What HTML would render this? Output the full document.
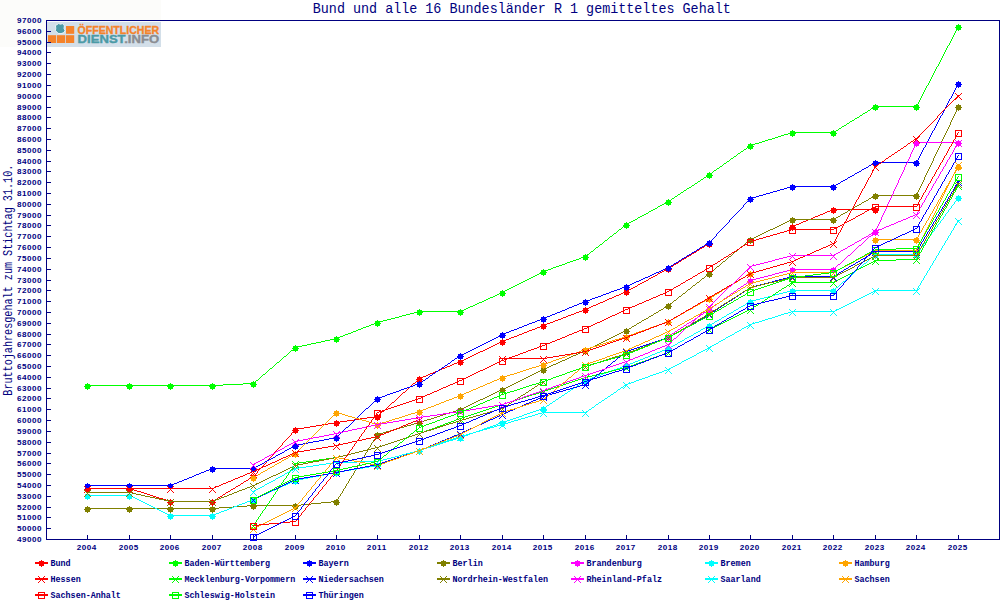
<!DOCTYPE html>
<html lang="de"><head><meta charset="utf-8"><title>Bund und alle 16 Bundesländer R 1 gemitteltes Gehalt</title>
<style>
html,body{margin:0;padding:0;background:#fff;}
body{width:1000px;height:600px;overflow:hidden;position:relative;font-family:"Liberation Mono",monospace;}
svg{position:absolute;left:0;top:0;display:block;}
.t{font-family:"Liberation Mono",monospace;fill:#000080;}
.s{font-family:"Liberation Mono",monospace;fill:#000080;font-weight:bold;font-size:9px;}
.d{font-family:"Liberation Sans",sans-serif;fill:#000080;font-weight:bold;font-size:8.1px;}
.logo{font-family:"Liberation Sans",sans-serif;font-weight:bold;}
</style></head><body>
<svg width="1000" height="600" viewBox="0 0 1000 600">
<rect x="0" y="0" width="1000" height="600" fill="#ffffff"/>
<text class="t" x="521.8" y="12.8" font-size="14.4" text-anchor="middle" textLength="418" lengthAdjust="spacingAndGlyphs">Bund und alle 16 Bundesländer R 1 gemitteltes Gehalt</text>
<text class="t" transform="translate(12,280.2) rotate(-90)" font-size="13" text-anchor="middle" textLength="231" lengthAdjust="spacingAndGlyphs">Bruttojahresgehalt zum Stichtag 31.10.</text>
<rect x="0" y="0" width="161" height="47" fill="#fcfcfa"/>
<g id="logo">
<rect x="47" y="22" width="114" height="25" fill="#d3dfe9"/>
<rect x="66" y="26" width="8.2" height="7.8" fill="#f5832a"/>
<rect x="48" y="35.2" width="8.2" height="7.8" fill="#f5832a"/>
<rect x="57" y="35.2" width="8.2" height="7.8" fill="#f5832a"/>
<rect x="66" y="35.2" width="8.2" height="7.8" fill="#f5832a"/>
<path d="M55.4 25.4 L57.4 24.6 L58.4 23.6 L60.6 24.2 L62.6 23.6 L64.4 25.8 L64 28.4 L65 30.4 L64 32.6 L61 33.6 L58 33.4 L56.6 31.6 L55.4 30.6 L55.8 28.2 Z" fill="#4b9aa6" stroke="#f4f8fa" stroke-width="0.9" stroke-linejoin="round"/>
<text class="logo" x="77.6" y="34" font-size="10.6" fill="#f5832a" stroke="#f5832a" stroke-width="0.35" textLength="81.5" lengthAdjust="spacingAndGlyphs">ÖFFENTLICHER</text>
<text class="logo" x="77.6" y="43.2" font-size="10.4" stroke-width="0.35" textLength="81.5" lengthAdjust="spacingAndGlyphs"><tspan fill="#4b9aa6" stroke="#4b9aa6">DIENST</tspan><tspan fill="#8b8d92" stroke="#8b8d92">.INFO</tspan></text>
</g>
<g stroke="#000080" stroke-width="1" fill="none" shape-rendering="crispEdges">
<rect x="46.5" y="20.5" width="953.0" height="519.0"/>
<path d="M47.0 539.5h4M47.0 528.5h4M47.0 517.5h4M47.0 507.5h4M47.0 496.5h4M47.0 485.5h4M47.0 474.5h4M47.0 463.5h4M47.0 453.5h4M47.0 442.5h4M47.0 431.5h4M47.0 420.5h4M47.0 409.5h4M47.0 398.5h4M47.0 388.5h4M47.0 377.5h4M47.0 366.5h4M47.0 355.5h4M47.0 344.5h4M47.0 334.5h4M47.0 323.5h4M47.0 312.5h4M47.0 301.5h4M47.0 290.5h4M47.0 280.5h4M47.0 269.5h4M47.0 258.5h4M47.0 247.5h4M47.0 236.5h4M47.0 225.5h4M47.0 215.5h4M47.0 204.5h4M47.0 193.5h4M47.0 182.5h4M47.0 171.5h4M47.0 161.5h4M47.0 150.5h4M47.0 139.5h4M47.0 128.5h4M47.0 117.5h4M47.0 107.5h4M47.0 96.5h4M47.0 85.5h4M47.0 74.5h4M47.0 63.5h4M47.0 52.5h4M47.0 42.5h4M47.0 31.5h4M47.0 20.5h4"/>
<path d="M87.5 539.0v-4M129.5 539.0v-4M170.5 539.0v-4M212.5 539.0v-4M253.5 539.0v-4M295.5 539.0v-4M336.5 539.0v-4M377.5 539.0v-4M419.5 539.0v-4M460.5 539.0v-4M502.5 539.0v-4M543.5 539.0v-4M585.5 539.0v-4M626.5 539.0v-4M668.5 539.0v-4M709.5 539.0v-4M750.5 539.0v-4M792.5 539.0v-4M833.5 539.0v-4M875.5 539.0v-4M916.5 539.0v-4M958.5 539.0v-4"/>
</g>
<g class="d" text-anchor="end">
<text x="41.6" y="542.1" textLength="24.6" lengthAdjust="spacing">49000</text>
<text x="41.6" y="531.1" textLength="24.6" lengthAdjust="spacing">50000</text>
<text x="41.6" y="520.1" textLength="24.6" lengthAdjust="spacing">51000</text>
<text x="41.6" y="510.1" textLength="24.6" lengthAdjust="spacing">52000</text>
<text x="41.6" y="499.1" textLength="24.6" lengthAdjust="spacing">53000</text>
<text x="41.6" y="488.1" textLength="24.6" lengthAdjust="spacing">54000</text>
<text x="41.6" y="477.1" textLength="24.6" lengthAdjust="spacing">55000</text>
<text x="41.6" y="466.1" textLength="24.6" lengthAdjust="spacing">56000</text>
<text x="41.6" y="456.1" textLength="24.6" lengthAdjust="spacing">57000</text>
<text x="41.6" y="445.1" textLength="24.6" lengthAdjust="spacing">58000</text>
<text x="41.6" y="434.1" textLength="24.6" lengthAdjust="spacing">59000</text>
<text x="41.6" y="423.1" textLength="24.6" lengthAdjust="spacing">60000</text>
<text x="41.6" y="412.1" textLength="24.6" lengthAdjust="spacing">61000</text>
<text x="41.6" y="401.1" textLength="24.6" lengthAdjust="spacing">62000</text>
<text x="41.6" y="391.1" textLength="24.6" lengthAdjust="spacing">63000</text>
<text x="41.6" y="380.1" textLength="24.6" lengthAdjust="spacing">64000</text>
<text x="41.6" y="369.1" textLength="24.6" lengthAdjust="spacing">65000</text>
<text x="41.6" y="358.1" textLength="24.6" lengthAdjust="spacing">66000</text>
<text x="41.6" y="347.1" textLength="24.6" lengthAdjust="spacing">67000</text>
<text x="41.6" y="337.1" textLength="24.6" lengthAdjust="spacing">68000</text>
<text x="41.6" y="326.1" textLength="24.6" lengthAdjust="spacing">69000</text>
<text x="41.6" y="315.1" textLength="24.6" lengthAdjust="spacing">70000</text>
<text x="41.6" y="304.1" textLength="24.6" lengthAdjust="spacing">71000</text>
<text x="41.6" y="293.1" textLength="24.6" lengthAdjust="spacing">72000</text>
<text x="41.6" y="283.1" textLength="24.6" lengthAdjust="spacing">73000</text>
<text x="41.6" y="272.1" textLength="24.6" lengthAdjust="spacing">74000</text>
<text x="41.6" y="261.1" textLength="24.6" lengthAdjust="spacing">75000</text>
<text x="41.6" y="250.1" textLength="24.6" lengthAdjust="spacing">76000</text>
<text x="41.6" y="239.1" textLength="24.6" lengthAdjust="spacing">77000</text>
<text x="41.6" y="228.1" textLength="24.6" lengthAdjust="spacing">78000</text>
<text x="41.6" y="218.1" textLength="24.6" lengthAdjust="spacing">79000</text>
<text x="41.6" y="207.1" textLength="24.6" lengthAdjust="spacing">80000</text>
<text x="41.6" y="196.1" textLength="24.6" lengthAdjust="spacing">81000</text>
<text x="41.6" y="185.1" textLength="24.6" lengthAdjust="spacing">82000</text>
<text x="41.6" y="174.1" textLength="24.6" lengthAdjust="spacing">83000</text>
<text x="41.6" y="164.1" textLength="24.6" lengthAdjust="spacing">84000</text>
<text x="41.6" y="153.1" textLength="24.6" lengthAdjust="spacing">85000</text>
<text x="41.6" y="142.1" textLength="24.6" lengthAdjust="spacing">86000</text>
<text x="41.6" y="131.1" textLength="24.6" lengthAdjust="spacing">87000</text>
<text x="41.6" y="120.1" textLength="24.6" lengthAdjust="spacing">88000</text>
<text x="41.6" y="110.1" textLength="24.6" lengthAdjust="spacing">89000</text>
<text x="41.6" y="99.1" textLength="24.6" lengthAdjust="spacing">90000</text>
<text x="41.6" y="88.1" textLength="24.6" lengthAdjust="spacing">91000</text>
<text x="41.6" y="77.1" textLength="24.6" lengthAdjust="spacing">92000</text>
<text x="41.6" y="66.1" textLength="24.6" lengthAdjust="spacing">93000</text>
<text x="41.6" y="55.1" textLength="24.6" lengthAdjust="spacing">94000</text>
<text x="41.6" y="45.1" textLength="24.6" lengthAdjust="spacing">95000</text>
<text x="41.6" y="34.1" textLength="24.6" lengthAdjust="spacing">96000</text>
<text x="41.6" y="23.1" textLength="24.6" lengthAdjust="spacing">97000</text>
</g>
<g class="d" text-anchor="middle">
<text x="86.5" y="550.1" textLength="19.6" lengthAdjust="spacing">2004</text>
<text x="128.5" y="550.1" textLength="19.6" lengthAdjust="spacing">2005</text>
<text x="169.5" y="550.1" textLength="19.6" lengthAdjust="spacing">2006</text>
<text x="211.5" y="550.1" textLength="19.6" lengthAdjust="spacing">2007</text>
<text x="252.5" y="550.1" textLength="19.6" lengthAdjust="spacing">2008</text>
<text x="294.5" y="550.1" textLength="19.6" lengthAdjust="spacing">2009</text>
<text x="335.5" y="550.1" textLength="19.6" lengthAdjust="spacing">2010</text>
<text x="376.5" y="550.1" textLength="19.6" lengthAdjust="spacing">2011</text>
<text x="418.5" y="550.1" textLength="19.6" lengthAdjust="spacing">2012</text>
<text x="459.5" y="550.1" textLength="19.6" lengthAdjust="spacing">2013</text>
<text x="501.5" y="550.1" textLength="19.6" lengthAdjust="spacing">2014</text>
<text x="542.5" y="550.1" textLength="19.6" lengthAdjust="spacing">2015</text>
<text x="584.5" y="550.1" textLength="19.6" lengthAdjust="spacing">2016</text>
<text x="625.5" y="550.1" textLength="19.6" lengthAdjust="spacing">2017</text>
<text x="667.5" y="550.1" textLength="19.6" lengthAdjust="spacing">2018</text>
<text x="708.5" y="550.1" textLength="19.6" lengthAdjust="spacing">2019</text>
<text x="749.5" y="550.1" textLength="19.6" lengthAdjust="spacing">2020</text>
<text x="791.5" y="550.1" textLength="19.6" lengthAdjust="spacing">2021</text>
<text x="832.5" y="550.1" textLength="19.6" lengthAdjust="spacing">2022</text>
<text x="874.5" y="550.1" textLength="19.6" lengthAdjust="spacing">2023</text>
<text x="915.5" y="550.1" textLength="19.6" lengthAdjust="spacing">2024</text>
<text x="957.5" y="550.1" textLength="19.6" lengthAdjust="spacing">2025</text>
</g>
<g id="series" fill="none" stroke-width="1" stroke-linejoin="round" shape-rendering="crispEdges">
<path d="M87 488.5h43M129 488.5h2M131 489.5h3M134 490.5h3M137 491.5h4M141 492.5h3M144 493.5h3M147 494.5h3M150 495.5h3M153 496.5h3M156 497.5h3M159 498.5h4M163 499.5h3M166 500.5h3M169 501.5h2M170 501.5h43M212 501.5h1M213 500.5h2M215 499.5h2M217 498.5h1M218 497.5h2M220 496.5h2M222 495.5h1M223 494.5h2M225 493.5h1M226 492.5h2M228 491.5h2M230 490.5h1M231 489.5h2M233 488.5h2M235 487.5h1M236 486.5h2M238 485.5h2M240 484.5h1M241 483.5h2M243 482.5h1M244 481.5h2M246 480.5h2M248 479.5h1M249 478.5h2M251 477.5h2M253 476.5h1M253.5 476v1M254.5 475v1M255.5 474v1M256.5 473v1M257.5 471v2M258.5 470v1M259.5 469v1M260.5 468v1M261.5 467v1M262.5 466v1M263.5 465v1M264.5 464v1M265.5 463v1M266.5 461v2M267.5 460v1M268.5 459v1M269.5 458v1M270.5 457v1M271.5 456v1M272.5 455v1M273.5 454v1M274.5 452v2M275.5 451v1M276.5 450v1M277.5 449v1M278.5 448v1M279.5 447v1M280.5 446v1M281.5 445v1M282.5 443v2M283.5 442v1M284.5 441v1M285.5 440v1M286.5 439v1M287.5 438v1M288.5 437v1M289.5 436v1M290.5 435v1M291.5 433v2M292.5 432v1M293.5 431v1M294.5 430v1M295.5 429v1M295 429.5h3M298 428.5h6M304 427.5h6M310 426.5h6M316 425.5h6M322 424.5h6M328 423.5h6M334 422.5h3M336 422.5h4M340 421.5h7M347 420.5h7M354 419.5h6M360 418.5h7M367 417.5h7M374 416.5h4M377 416.5h1M378 415.5h1M379 414.5h1M380 413.5h1M381 412.5h1M382 411.5h2M384 410.5h1M385 409.5h1M386 408.5h1M387 407.5h1M388 406.5h1M389 405.5h1M390 404.5h1M391 403.5h1M392 402.5h2M394 401.5h1M395 400.5h1M396 399.5h1M397 398.5h1M398 397.5h1M399 396.5h1M400 395.5h1M401 394.5h1M402 393.5h1M403 392.5h2M405 391.5h1M406 390.5h1M407 389.5h1M408 388.5h1M409 387.5h1M410 386.5h1M411 385.5h1M412 384.5h1M413 383.5h2M415 382.5h1M416 381.5h1M417 380.5h1M418 379.5h1M419 378.5h1M419 378.5h2M421 377.5h2M423 376.5h3M426 375.5h2M428 374.5h2M430 373.5h3M433 372.5h2M435 371.5h3M438 370.5h2M440 369.5h2M442 368.5h3M445 367.5h2M447 366.5h3M450 365.5h2M452 364.5h2M454 363.5h3M457 362.5h2M459 361.5h2M460 361.5h2M462 360.5h2M464 359.5h2M466 358.5h2M468 357.5h2M470 356.5h2M472 355.5h2M474 354.5h2M476 353.5h2M478 352.5h2M480 351.5h3M483 350.5h2M485 349.5h2M487 348.5h2M489 347.5h2M491 346.5h2M493 345.5h2M495 344.5h2M497 343.5h2M499 342.5h2M501 341.5h2M502 341.5h2M504 340.5h2M506 339.5h3M509 338.5h2M511 337.5h3M514 336.5h3M517 335.5h2M519 334.5h3M522 333.5h2M524 332.5h3M527 331.5h2M529 330.5h3M532 329.5h3M535 328.5h2M537 327.5h3M540 326.5h2M542 325.5h2M543 325.5h2M545 324.5h2M547 323.5h3M550 322.5h3M553 321.5h2M555 320.5h3M558 319.5h3M561 318.5h2M563 317.5h3M566 316.5h2M568 315.5h3M571 314.5h3M574 313.5h2M576 312.5h3M579 311.5h3M582 310.5h2M584 309.5h2M585 309.5h2M587 308.5h2M589 307.5h2M591 306.5h2M593 305.5h3M596 304.5h2M598 303.5h2M600 302.5h3M603 301.5h2M605 300.5h2M607 299.5h2M609 298.5h3M612 297.5h2M614 296.5h2M616 295.5h3M619 294.5h2M621 293.5h2M623 292.5h2M625 291.5h2M626 291.5h1M627 290.5h2M629 289.5h2M631 288.5h2M633 287.5h2M635 286.5h2M637 285.5h1M638 284.5h2M640 283.5h2M642 282.5h2M644 281.5h2M646 280.5h2M648 279.5h1M649 278.5h2M651 277.5h2M653 276.5h2M655 275.5h2M657 274.5h1M658 273.5h2M660 272.5h2M662 271.5h2M664 270.5h2M666 269.5h2M668 268.5h1M668 268.5h1M669 267.5h2M671 266.5h2M673 265.5h1M674 264.5h2M676 263.5h2M678 262.5h1M679 261.5h2M681 260.5h1M682 259.5h2M684 258.5h2M686 257.5h1M687 256.5h2M689 255.5h2M691 254.5h1M692 253.5h2M694 252.5h2M696 251.5h1M697 250.5h2M699 249.5h1M700 248.5h2M702 247.5h2M704 246.5h1M705 245.5h2M707 244.5h2M709 243.5h1" stroke="#ff0000"/>
<path d="M792 226.5h2M794 225.5h2M796 224.5h3M799 223.5h2M801 222.5h2M803 221.5h3M806 220.5h2M808 219.5h3M811 218.5h2M813 217.5h2M815 216.5h3M818 215.5h2M820 214.5h3M823 213.5h2M825 212.5h2M827 211.5h3M830 210.5h2M832 209.5h2M833 209.5h43" stroke="#ff0000"/>
<path d="M87.0 486.0h1v1h2v2h1v1h-1v2h-2v1h-1v-1h-2v-2h-1v-1h1v-2h2z" fill="#ff0000" shape-rendering="crispEdges"/>
<path d="M129.0 486.0h1v1h2v2h1v1h-1v2h-2v1h-1v-1h-2v-2h-1v-1h1v-2h2z" fill="#ff0000" shape-rendering="crispEdges"/>
<path d="M170.0 499.0h1v1h2v2h1v1h-1v2h-2v1h-1v-1h-2v-2h-1v-1h1v-2h2z" fill="#ff0000" shape-rendering="crispEdges"/>
<path d="M212.0 499.0h1v1h2v2h1v1h-1v2h-2v1h-1v-1h-2v-2h-1v-1h1v-2h2z" fill="#ff0000" shape-rendering="crispEdges"/>
<path d="M253.0 474.0h1v1h2v2h1v1h-1v2h-2v1h-1v-1h-2v-2h-1v-1h1v-2h2z" fill="#ff0000" shape-rendering="crispEdges"/>
<path d="M295.0 427.0h1v1h2v2h1v1h-1v2h-2v1h-1v-1h-2v-2h-1v-1h1v-2h2z" fill="#ff0000" shape-rendering="crispEdges"/>
<path d="M336.0 420.0h1v1h2v2h1v1h-1v2h-2v1h-1v-1h-2v-2h-1v-1h1v-2h2z" fill="#ff0000" shape-rendering="crispEdges"/>
<path d="M377.0 414.0h1v1h2v2h1v1h-1v2h-2v1h-1v-1h-2v-2h-1v-1h1v-2h2z" fill="#ff0000" shape-rendering="crispEdges"/>
<path d="M419.0 376.0h1v1h2v2h1v1h-1v2h-2v1h-1v-1h-2v-2h-1v-1h1v-2h2z" fill="#ff0000" shape-rendering="crispEdges"/>
<path d="M460.0 359.0h1v1h2v2h1v1h-1v2h-2v1h-1v-1h-2v-2h-1v-1h1v-2h2z" fill="#ff0000" shape-rendering="crispEdges"/>
<path d="M502.0 339.0h1v1h2v2h1v1h-1v2h-2v1h-1v-1h-2v-2h-1v-1h1v-2h2z" fill="#ff0000" shape-rendering="crispEdges"/>
<path d="M543.0 323.0h1v1h2v2h1v1h-1v2h-2v1h-1v-1h-2v-2h-1v-1h1v-2h2z" fill="#ff0000" shape-rendering="crispEdges"/>
<path d="M585.0 307.0h1v1h2v2h1v1h-1v2h-2v1h-1v-1h-2v-2h-1v-1h1v-2h2z" fill="#ff0000" shape-rendering="crispEdges"/>
<path d="M626.0 289.0h1v1h2v2h1v1h-1v2h-2v1h-1v-1h-2v-2h-1v-1h1v-2h2z" fill="#ff0000" shape-rendering="crispEdges"/>
<path d="M668.0 266.0h1v1h2v2h1v1h-1v2h-2v1h-1v-1h-2v-2h-1v-1h1v-2h2z" fill="#ff0000" shape-rendering="crispEdges"/>
<path d="M709.0 241.0h1v1h2v2h1v1h-1v2h-2v1h-1v-1h-2v-2h-1v-1h1v-2h2z" fill="#ff0000" shape-rendering="crispEdges"/>
<path d="M792.0 224.0h1v1h2v2h1v1h-1v2h-2v1h-1v-1h-2v-2h-1v-1h1v-2h2z" fill="#ff0000" shape-rendering="crispEdges"/>
<path d="M833.0 207.0h1v1h2v2h1v1h-1v2h-2v1h-1v-1h-2v-2h-1v-1h1v-2h2z" fill="#ff0000" shape-rendering="crispEdges"/>
<path d="M875.0 207.0h1v1h2v2h1v1h-1v2h-2v1h-1v-1h-2v-2h-1v-1h1v-2h2z" fill="#ff0000" shape-rendering="crispEdges"/>
<path d="M87 385.5h43M129 385.5h42M170 385.5h43M212 385.5h11M223 384.5h20M243 383.5h11M253 383.5h1M254 382.5h1M255 381.5h1M256 380.5h2M258 379.5h1M259 378.5h1M260 377.5h1M261 376.5h1M262 375.5h1M263 374.5h2M265 373.5h1M266 372.5h1M267 371.5h1M268 370.5h1M269 369.5h1M270 368.5h2M272 367.5h1M273 366.5h1M274 365.5h1M275 364.5h1M276 363.5h1M277 362.5h2M279 361.5h1M280 360.5h1M281 359.5h1M282 358.5h1M283 357.5h1M284 356.5h2M286 355.5h1M287 354.5h1M288 353.5h1M289 352.5h1M290 351.5h1M291 350.5h2M293 349.5h1M294 348.5h1M295 347.5h1M295 347.5h3M298 346.5h4M302 345.5h5M307 344.5h4M311 343.5h5M316 342.5h5M321 341.5h4M325 340.5h5M330 339.5h4M334 338.5h3M336 338.5h2M338 337.5h2M340 336.5h3M343 335.5h2M345 334.5h3M348 333.5h3M351 332.5h2M353 331.5h3M356 330.5h2M358 329.5h3M361 328.5h2M363 327.5h3M366 326.5h3M369 325.5h2M371 324.5h3M374 323.5h2M376 322.5h2M377 322.5h2M379 321.5h4M383 320.5h4M387 319.5h4M391 318.5h4M395 317.5h4M399 316.5h3M402 315.5h4M406 314.5h4M410 313.5h4M414 312.5h4M418 311.5h2M419 311.5h42M460 311.5h2M462 310.5h2M464 309.5h2M466 308.5h2M468 307.5h2M470 306.5h3M473 305.5h2M475 304.5h2M477 303.5h2M479 302.5h3M482 301.5h2M484 300.5h2M486 299.5h2M488 298.5h2M490 297.5h3M493 296.5h2M495 295.5h2M497 294.5h2M499 293.5h2M501 292.5h2M502 292.5h1M503 291.5h2M505 290.5h2M507 289.5h2M509 288.5h2M511 287.5h2M513 286.5h2M515 285.5h2M517 284.5h2M519 283.5h2M521 282.5h2M523 281.5h2M525 280.5h2M527 279.5h2M529 278.5h2M531 277.5h2M533 276.5h2M535 275.5h2M537 274.5h2M539 273.5h2M541 272.5h2M543 271.5h1M543 271.5h2M545 270.5h3M548 269.5h3M551 268.5h2M553 267.5h3M556 266.5h3M559 265.5h3M562 264.5h3M565 263.5h2M567 262.5h3M570 261.5h3M573 260.5h3M576 259.5h3M579 258.5h2M581 257.5h3M584 256.5h2M585 256.5h1M586 255.5h1M587 254.5h2M589 253.5h1M590 252.5h1M591 251.5h2M593 250.5h1M594 249.5h1M595 248.5h1M596 247.5h2M598 246.5h1M599 245.5h1M600 244.5h2M602 243.5h1M603 242.5h1M604 241.5h1M605 240.5h2M607 239.5h1M608 238.5h1M609 237.5h1M610 236.5h2M612 235.5h1M613 234.5h1M614 233.5h2M616 232.5h1M617 231.5h1M618 230.5h1M619 229.5h2M621 228.5h1M622 227.5h1M623 226.5h2M625 225.5h1M626 224.5h1M626 224.5h1M627 223.5h2M629 222.5h2M631 221.5h2M633 220.5h2M635 219.5h2M637 218.5h1M638 217.5h2M640 216.5h2M642 215.5h2M644 214.5h2M646 213.5h2M648 212.5h1M649 211.5h2M651 210.5h2M653 209.5h2M655 208.5h2M657 207.5h1M658 206.5h2M660 205.5h2M662 204.5h2M664 203.5h2M666 202.5h2M668 201.5h1M668 201.5h1M669 200.5h2M671 199.5h1M672 198.5h2M674 197.5h1M675 196.5h2M677 195.5h1M678 194.5h2M680 193.5h1M681 192.5h2M683 191.5h1M684 190.5h2M686 189.5h1M687 188.5h2M689 187.5h2M691 186.5h1M692 185.5h2M694 184.5h1M695 183.5h2M697 182.5h1M698 181.5h2M700 180.5h1M701 179.5h2M703 178.5h1M704 177.5h2M706 176.5h1M707 175.5h2M709 174.5h1M709 174.5h1M710 173.5h2M712 172.5h1M713 171.5h1M714 170.5h2M716 169.5h1M717 168.5h2M719 167.5h1M720 166.5h2M722 165.5h1M723 164.5h1M724 163.5h2M726 162.5h1M727 161.5h2M729 160.5h1M730 159.5h1M731 158.5h2M733 157.5h1M734 156.5h2M736 155.5h1M737 154.5h1M738 153.5h2M740 152.5h1M741 151.5h2M743 150.5h1M744 149.5h2M746 148.5h1M747 147.5h1M748 146.5h2M750 145.5h1M750 145.5h2M752 144.5h3M755 143.5h4M759 142.5h3M762 141.5h3M765 140.5h3M768 139.5h4M772 138.5h3M775 137.5h3M778 136.5h3M781 135.5h3M784 134.5h4M788 133.5h3M791 132.5h2M792 132.5h42M833 132.5h1M834 131.5h2M836 130.5h2M838 129.5h1M839 128.5h2M841 127.5h1M842 126.5h2M844 125.5h2M846 124.5h1M847 123.5h2M849 122.5h1M850 121.5h2M852 120.5h2M854 119.5h1M855 118.5h2M857 117.5h2M859 116.5h1M860 115.5h2M862 114.5h1M863 113.5h2M865 112.5h2M867 111.5h1M868 110.5h2M870 109.5h1M871 108.5h2M873 107.5h2M875 106.5h1M875 106.5h42M916.5 106v1M917.5 104v2M918.5 102v2M919.5 100v2M920.5 98v2M921.5 96v2M922.5 94v2M923.5 92v2M924.5 90v2M925.5 88v2M926.5 86v2M927.5 85v1M928.5 83v2M929.5 81v2M930.5 79v2M931.5 77v2M932.5 75v2M933.5 73v2M934.5 71v2M935.5 69v2M936.5 67v2M937.5 66v1M938.5 64v2M939.5 62v2M940.5 60v2M941.5 58v2M942.5 56v2M943.5 54v2M944.5 52v2M945.5 50v2M946.5 48v2M947.5 46v2M948.5 45v1M949.5 43v2M950.5 41v2M951.5 39v2M952.5 37v2M953.5 35v2M954.5 33v2M955.5 31v2M956.5 29v2M957.5 27v2M958.5 26v1" stroke="#00ff00"/>
<path d="M87.0 383.0h1v1h2v2h1v1h-1v2h-2v1h-1v-1h-2v-2h-1v-1h1v-2h2z" fill="#00ff00" shape-rendering="crispEdges"/>
<path d="M129.0 383.0h1v1h2v2h1v1h-1v2h-2v1h-1v-1h-2v-2h-1v-1h1v-2h2z" fill="#00ff00" shape-rendering="crispEdges"/>
<path d="M170.0 383.0h1v1h2v2h1v1h-1v2h-2v1h-1v-1h-2v-2h-1v-1h1v-2h2z" fill="#00ff00" shape-rendering="crispEdges"/>
<path d="M212.0 383.0h1v1h2v2h1v1h-1v2h-2v1h-1v-1h-2v-2h-1v-1h1v-2h2z" fill="#00ff00" shape-rendering="crispEdges"/>
<path d="M253.0 381.0h1v1h2v2h1v1h-1v2h-2v1h-1v-1h-2v-2h-1v-1h1v-2h2z" fill="#00ff00" shape-rendering="crispEdges"/>
<path d="M295.0 345.0h1v1h2v2h1v1h-1v2h-2v1h-1v-1h-2v-2h-1v-1h1v-2h2z" fill="#00ff00" shape-rendering="crispEdges"/>
<path d="M336.0 336.0h1v1h2v2h1v1h-1v2h-2v1h-1v-1h-2v-2h-1v-1h1v-2h2z" fill="#00ff00" shape-rendering="crispEdges"/>
<path d="M377.0 320.0h1v1h2v2h1v1h-1v2h-2v1h-1v-1h-2v-2h-1v-1h1v-2h2z" fill="#00ff00" shape-rendering="crispEdges"/>
<path d="M419.0 309.0h1v1h2v2h1v1h-1v2h-2v1h-1v-1h-2v-2h-1v-1h1v-2h2z" fill="#00ff00" shape-rendering="crispEdges"/>
<path d="M460.0 309.0h1v1h2v2h1v1h-1v2h-2v1h-1v-1h-2v-2h-1v-1h1v-2h2z" fill="#00ff00" shape-rendering="crispEdges"/>
<path d="M502.0 290.0h1v1h2v2h1v1h-1v2h-2v1h-1v-1h-2v-2h-1v-1h1v-2h2z" fill="#00ff00" shape-rendering="crispEdges"/>
<path d="M543.0 269.0h1v1h2v2h1v1h-1v2h-2v1h-1v-1h-2v-2h-1v-1h1v-2h2z" fill="#00ff00" shape-rendering="crispEdges"/>
<path d="M585.0 254.0h1v1h2v2h1v1h-1v2h-2v1h-1v-1h-2v-2h-1v-1h1v-2h2z" fill="#00ff00" shape-rendering="crispEdges"/>
<path d="M626.0 222.0h1v1h2v2h1v1h-1v2h-2v1h-1v-1h-2v-2h-1v-1h1v-2h2z" fill="#00ff00" shape-rendering="crispEdges"/>
<path d="M668.0 199.0h1v1h2v2h1v1h-1v2h-2v1h-1v-1h-2v-2h-1v-1h1v-2h2z" fill="#00ff00" shape-rendering="crispEdges"/>
<path d="M709.0 172.0h1v1h2v2h1v1h-1v2h-2v1h-1v-1h-2v-2h-1v-1h1v-2h2z" fill="#00ff00" shape-rendering="crispEdges"/>
<path d="M750.0 143.0h1v1h2v2h1v1h-1v2h-2v1h-1v-1h-2v-2h-1v-1h1v-2h2z" fill="#00ff00" shape-rendering="crispEdges"/>
<path d="M792.0 130.0h1v1h2v2h1v1h-1v2h-2v1h-1v-1h-2v-2h-1v-1h1v-2h2z" fill="#00ff00" shape-rendering="crispEdges"/>
<path d="M833.0 130.0h1v1h2v2h1v1h-1v2h-2v1h-1v-1h-2v-2h-1v-1h1v-2h2z" fill="#00ff00" shape-rendering="crispEdges"/>
<path d="M875.0 104.0h1v1h2v2h1v1h-1v2h-2v1h-1v-1h-2v-2h-1v-1h1v-2h2z" fill="#00ff00" shape-rendering="crispEdges"/>
<path d="M916.0 104.0h1v1h2v2h1v1h-1v2h-2v1h-1v-1h-2v-2h-1v-1h1v-2h2z" fill="#00ff00" shape-rendering="crispEdges"/>
<path d="M958.0 24.0h1v1h2v2h1v1h-1v2h-2v1h-1v-1h-2v-2h-1v-1h1v-2h2z" fill="#00ff00" shape-rendering="crispEdges"/>
<path d="M87 485.5h43M129 485.5h42M170 485.5h2M172 484.5h2M174 483.5h3M177 482.5h2M179 481.5h3M182 480.5h2M184 479.5h3M187 478.5h2M189 477.5h3M192 476.5h2M194 475.5h2M196 474.5h3M199 473.5h2M201 472.5h3M204 471.5h2M206 470.5h3M209 469.5h2M211 468.5h2M212 468.5h42M253 468.5h1M254 467.5h2M256 466.5h2M258 465.5h2M260 464.5h2M262 463.5h2M264 462.5h1M265 461.5h2M267 460.5h2M269 459.5h2M271 458.5h2M273 457.5h2M275 456.5h1M276 455.5h2M278 454.5h2M280 453.5h2M282 452.5h2M284 451.5h1M285 450.5h2M287 449.5h2M289 448.5h2M291 447.5h2M293 446.5h2M295 445.5h1M295 445.5h3M298 444.5h5M303 443.5h5M308 442.5h5M313 441.5h6M319 440.5h5M324 439.5h5M329 438.5h5M334 437.5h3M336 437.5h1M337 436.5h1M338 435.5h1M339 434.5h1M340 433.5h1M341 432.5h1M342 431.5h1M343 430.5h1M344 429.5h1M345 428.5h1M346 427.5h2M348 426.5h1M349 425.5h1M350 424.5h1M351 423.5h1M352 422.5h1M353 421.5h1M354 420.5h1M355 419.5h1M356 418.5h1M357 417.5h1M358 416.5h1M359 415.5h1M360 414.5h1M361 413.5h1M362 412.5h1M363 411.5h1M364 410.5h1M365 409.5h1M366 408.5h2M368 407.5h1M369 406.5h1M370 405.5h1M371 404.5h1M372 403.5h1M373 402.5h1M374 401.5h1M375 400.5h1M376 399.5h1M377 398.5h1M377 398.5h2M379 397.5h3M382 396.5h3M385 395.5h2M387 394.5h3M390 393.5h3M393 392.5h3M396 391.5h3M399 390.5h2M401 389.5h3M404 388.5h3M407 387.5h3M410 386.5h3M413 385.5h2M415 384.5h3M418 383.5h2M419 383.5h1M420 382.5h2M422 381.5h1M423 380.5h2M425 379.5h1M426 378.5h2M428 377.5h1M429 376.5h1M430 375.5h2M432 374.5h1M433 373.5h2M435 372.5h1M436 371.5h2M438 370.5h1M439 369.5h2M441 368.5h1M442 367.5h2M444 366.5h1M445 365.5h2M447 364.5h1M448 363.5h2M450 362.5h1M451 361.5h1M452 360.5h2M454 359.5h1M455 358.5h2M457 357.5h1M458 356.5h2M460 355.5h1M460 355.5h2M462 354.5h2M464 353.5h2M466 352.5h2M468 351.5h2M470 350.5h2M472 349.5h2M474 348.5h2M476 347.5h2M478 346.5h2M480 345.5h2M482 344.5h2M484 343.5h2M486 342.5h2M488 341.5h2M490 340.5h2M492 339.5h2M494 338.5h2M496 337.5h2M498 336.5h2M500 335.5h2M502 334.5h1M502 334.5h2M504 333.5h2M506 332.5h3M509 331.5h2M511 330.5h3M514 329.5h3M517 328.5h2M519 327.5h3M522 326.5h2M524 325.5h3M527 324.5h2M529 323.5h3M532 322.5h3M535 321.5h2M537 320.5h3M540 319.5h2M542 318.5h2M543 318.5h2M545 317.5h2M547 316.5h3M550 315.5h2M552 314.5h3M555 313.5h2M557 312.5h3M560 311.5h2M562 310.5h3M565 309.5h2M567 308.5h2M569 307.5h3M572 306.5h2M574 305.5h3M577 304.5h2M579 303.5h3M582 302.5h2M584 301.5h2M585 301.5h2M587 300.5h3M590 299.5h2M592 298.5h3M595 297.5h3M598 296.5h3M601 295.5h2M603 294.5h3M606 293.5h3M609 292.5h2M611 291.5h3M614 290.5h3M617 289.5h3M620 288.5h2M622 287.5h3M625 286.5h2M626 286.5h2M628 285.5h2M630 284.5h2M632 283.5h2M634 282.5h2M636 281.5h3M639 280.5h2M641 279.5h2M643 278.5h2M645 277.5h3M648 276.5h2M650 275.5h2M652 274.5h2M654 273.5h2M656 272.5h3M659 271.5h2M661 270.5h2M663 269.5h2M665 268.5h2M667 267.5h2M668 267.5h1M669 266.5h2M671 265.5h2M673 264.5h1M674 263.5h2M676 262.5h2M678 261.5h1M679 260.5h2M681 259.5h1M682 258.5h2M684 257.5h2M686 256.5h1M687 255.5h2M689 254.5h2M691 253.5h1M692 252.5h2M694 251.5h2M696 250.5h1M697 249.5h2M699 248.5h1M700 247.5h2M702 246.5h2M704 245.5h1M705 244.5h2M707 243.5h2M709 242.5h1M709.5 242v1M710.5 241v1M711.5 240v1M712.5 239v1M713.5 238v1M714.5 237v1M715.5 236v1M716.5 234v2M717.5 233v1M718.5 232v1M719.5 231v1M720.5 230v1M721.5 229v1M722.5 228v1M723.5 227v1M724.5 226v1M725.5 225v1M726.5 224v1M727.5 223v1M728.5 222v1M729.5 220v2M730.5 219v1M731.5 218v1M732.5 217v1M733.5 216v1M734.5 215v1M735.5 214v1M736.5 213v1M737.5 212v1M738.5 211v1M739.5 210v1M740.5 209v1M741.5 208v1M742.5 207v1M743.5 205v2M744.5 204v1M745.5 203v1M746.5 202v1M747.5 201v1M748.5 200v1M749.5 199v1M750.5 198v1M750 198.5h2M752 197.5h4M756 196.5h3M759 195.5h4M763 194.5h3M766 193.5h4M770 192.5h3M773 191.5h4M777 190.5h3M780 189.5h4M784 188.5h3M787 187.5h4M791 186.5h2M792 186.5h42M833 186.5h1M834 185.5h2M836 184.5h2M838 183.5h2M840 182.5h1M841 181.5h2M843 180.5h2M845 179.5h2M847 178.5h1M848 177.5h2M850 176.5h2M852 175.5h2M854 174.5h1M855 173.5h2M857 172.5h2M859 171.5h2M861 170.5h1M862 169.5h2M864 168.5h2M866 167.5h2M868 166.5h1M869 165.5h2M871 164.5h2M873 163.5h2M875 162.5h1M875 162.5h42M916.5 162v1M917.5 160v2M918.5 158v2M919.5 156v2M920.5 154v2M921.5 152v2M922.5 150v2M923.5 148v2M924.5 147v1M925.5 145v2M926.5 143v2M927.5 141v2M928.5 139v2M929.5 137v2M930.5 135v2M931.5 133v2M932.5 131v2M933.5 130v1M934.5 128v2M935.5 126v2M936.5 124v2M937.5 122v2M938.5 120v2M939.5 118v2M940.5 116v2M941.5 115v1M942.5 113v2M943.5 111v2M944.5 109v2M945.5 107v2M946.5 105v2M947.5 103v2M948.5 101v2M949.5 99v2M950.5 98v1M951.5 96v2M952.5 94v2M953.5 92v2M954.5 90v2M955.5 88v2M956.5 86v2M957.5 84v2M958.5 83v1" stroke="#0000ff"/>
<path d="M87.0 483.0h1v1h2v2h1v1h-1v2h-2v1h-1v-1h-2v-2h-1v-1h1v-2h2z" fill="#0000ff" shape-rendering="crispEdges"/>
<path d="M129.0 483.0h1v1h2v2h1v1h-1v2h-2v1h-1v-1h-2v-2h-1v-1h1v-2h2z" fill="#0000ff" shape-rendering="crispEdges"/>
<path d="M170.0 483.0h1v1h2v2h1v1h-1v2h-2v1h-1v-1h-2v-2h-1v-1h1v-2h2z" fill="#0000ff" shape-rendering="crispEdges"/>
<path d="M212.0 466.0h1v1h2v2h1v1h-1v2h-2v1h-1v-1h-2v-2h-1v-1h1v-2h2z" fill="#0000ff" shape-rendering="crispEdges"/>
<path d="M253.0 466.0h1v1h2v2h1v1h-1v2h-2v1h-1v-1h-2v-2h-1v-1h1v-2h2z" fill="#0000ff" shape-rendering="crispEdges"/>
<path d="M295.0 443.0h1v1h2v2h1v1h-1v2h-2v1h-1v-1h-2v-2h-1v-1h1v-2h2z" fill="#0000ff" shape-rendering="crispEdges"/>
<path d="M336.0 435.0h1v1h2v2h1v1h-1v2h-2v1h-1v-1h-2v-2h-1v-1h1v-2h2z" fill="#0000ff" shape-rendering="crispEdges"/>
<path d="M377.0 396.0h1v1h2v2h1v1h-1v2h-2v1h-1v-1h-2v-2h-1v-1h1v-2h2z" fill="#0000ff" shape-rendering="crispEdges"/>
<path d="M419.0 381.0h1v1h2v2h1v1h-1v2h-2v1h-1v-1h-2v-2h-1v-1h1v-2h2z" fill="#0000ff" shape-rendering="crispEdges"/>
<path d="M460.0 353.0h1v1h2v2h1v1h-1v2h-2v1h-1v-1h-2v-2h-1v-1h1v-2h2z" fill="#0000ff" shape-rendering="crispEdges"/>
<path d="M502.0 332.0h1v1h2v2h1v1h-1v2h-2v1h-1v-1h-2v-2h-1v-1h1v-2h2z" fill="#0000ff" shape-rendering="crispEdges"/>
<path d="M543.0 316.0h1v1h2v2h1v1h-1v2h-2v1h-1v-1h-2v-2h-1v-1h1v-2h2z" fill="#0000ff" shape-rendering="crispEdges"/>
<path d="M585.0 299.0h1v1h2v2h1v1h-1v2h-2v1h-1v-1h-2v-2h-1v-1h1v-2h2z" fill="#0000ff" shape-rendering="crispEdges"/>
<path d="M626.0 284.0h1v1h2v2h1v1h-1v2h-2v1h-1v-1h-2v-2h-1v-1h1v-2h2z" fill="#0000ff" shape-rendering="crispEdges"/>
<path d="M668.0 265.0h1v1h2v2h1v1h-1v2h-2v1h-1v-1h-2v-2h-1v-1h1v-2h2z" fill="#0000ff" shape-rendering="crispEdges"/>
<path d="M709.0 240.0h1v1h2v2h1v1h-1v2h-2v1h-1v-1h-2v-2h-1v-1h1v-2h2z" fill="#0000ff" shape-rendering="crispEdges"/>
<path d="M750.0 196.0h1v1h2v2h1v1h-1v2h-2v1h-1v-1h-2v-2h-1v-1h1v-2h2z" fill="#0000ff" shape-rendering="crispEdges"/>
<path d="M792.0 184.0h1v1h2v2h1v1h-1v2h-2v1h-1v-1h-2v-2h-1v-1h1v-2h2z" fill="#0000ff" shape-rendering="crispEdges"/>
<path d="M833.0 184.0h1v1h2v2h1v1h-1v2h-2v1h-1v-1h-2v-2h-1v-1h1v-2h2z" fill="#0000ff" shape-rendering="crispEdges"/>
<path d="M875.0 160.0h1v1h2v2h1v1h-1v2h-2v1h-1v-1h-2v-2h-1v-1h1v-2h2z" fill="#0000ff" shape-rendering="crispEdges"/>
<path d="M916.0 160.0h1v1h2v2h1v1h-1v2h-2v1h-1v-1h-2v-2h-1v-1h1v-2h2z" fill="#0000ff" shape-rendering="crispEdges"/>
<path d="M958.0 81.0h1v1h2v2h1v1h-1v2h-2v1h-1v-1h-2v-2h-1v-1h1v-2h2z" fill="#0000ff" shape-rendering="crispEdges"/>
<path d="M87 508.5h43M129 508.5h42M170 508.5h43M212 508.5h7M219 507.5h14M233 506.5h14M247 505.5h7M253 505.5h43M295 505.5h6M301 504.5h10M311 503.5h10M321 502.5h10M331 501.5h6M336.5 501v1M337.5 499v2M338.5 497v2M339.5 496v1M340.5 494v2M341.5 493v1M342.5 491v2M343.5 489v2M344.5 488v1M345.5 486v2M346.5 484v2M347.5 483v1M348.5 481v2M349.5 479v2M350.5 478v1M351.5 476v2M352.5 475v1M353.5 473v2M354.5 471v2M355.5 470v1M356.5 468v2M357.5 466v2M358.5 465v1M359.5 463v2M360.5 461v2M361.5 460v1M362.5 458v2M363.5 457v1M364.5 455v2M365.5 453v2M366.5 452v1M367.5 450v2M368.5 448v2M369.5 447v1M370.5 445v2M371.5 443v2M372.5 442v1M373.5 440v2M374.5 439v1M375.5 437v2M376.5 435v2M377.5 434v1M377 434.5h2M379 433.5h4M383 432.5h3M386 431.5h4M390 430.5h3M393 429.5h4M397 428.5h3M400 427.5h4M404 426.5h3M407 425.5h4M411 424.5h3M414 423.5h4M418 422.5h2M419 422.5h2M421 421.5h3M424 420.5h3M427 419.5h4M431 418.5h3M434 417.5h3M437 416.5h3M440 415.5h3M443 414.5h3M446 413.5h3M449 412.5h4M453 411.5h3M456 410.5h3M459 409.5h2M460 409.5h2M462 408.5h2M464 407.5h2M466 406.5h2M468 405.5h2M470 404.5h2M472 403.5h2M474 402.5h2M476 401.5h2M478 400.5h2M480 399.5h3M483 398.5h2M485 397.5h2M487 396.5h2M489 395.5h2M491 394.5h2M493 393.5h2M495 392.5h2M497 391.5h2M499 390.5h2M501 389.5h2M502 389.5h2M504 388.5h2M506 387.5h2M508 386.5h2M510 385.5h2M512 384.5h2M514 383.5h2M516 382.5h2M518 381.5h2M520 380.5h2M522 379.5h2M524 378.5h2M526 377.5h2M528 376.5h2M530 375.5h2M532 374.5h2M534 373.5h2M536 372.5h2M538 371.5h2M540 370.5h2M542 369.5h2M543 369.5h2M545 368.5h2M547 367.5h2M549 366.5h2M551 365.5h2M553 364.5h3M556 363.5h2M558 362.5h2M560 361.5h2M562 360.5h3M565 359.5h2M567 358.5h2M569 357.5h2M571 356.5h2M573 355.5h3M576 354.5h2M578 353.5h2M580 352.5h2M582 351.5h2M584 350.5h2M585 350.5h2M587 349.5h2M589 348.5h2M591 347.5h2M593 346.5h2M595 345.5h2M597 344.5h2M599 343.5h2M601 342.5h2M603 341.5h2M605 340.5h2M607 339.5h2M609 338.5h2M611 337.5h2M613 336.5h2M615 335.5h2M617 334.5h2M619 333.5h2M621 332.5h2M623 331.5h2M625 330.5h2M626 330.5h1M627 329.5h2M629 328.5h2M631 327.5h1M632 326.5h2M634 325.5h2M636 324.5h1M637 323.5h2M639 322.5h2M641 321.5h1M642 320.5h2M644 319.5h2M646 318.5h2M648 317.5h1M649 316.5h2M651 315.5h2M653 314.5h1M654 313.5h2M656 312.5h2M658 311.5h1M659 310.5h2M661 309.5h2M663 308.5h1M664 307.5h2M666 306.5h2M668 305.5h1M668 305.5h1M669 304.5h1M670 303.5h2M672 302.5h1M673 301.5h1M674 300.5h2M676 299.5h1M677 298.5h1M678 297.5h1M679 296.5h2M681 295.5h1M682 294.5h1M683 293.5h2M685 292.5h1M686 291.5h1M687 290.5h1M688 289.5h2M690 288.5h1M691 287.5h1M692 286.5h1M693 285.5h2M695 284.5h1M696 283.5h1M697 282.5h2M699 281.5h1M700 280.5h1M701 279.5h1M702 278.5h2M704 277.5h1M705 276.5h1M706 275.5h2M708 274.5h1M709 273.5h1M709 273.5h1M710 272.5h1M711 271.5h2M713 270.5h1M714 269.5h1M715 268.5h1M716 267.5h1M717 266.5h2M719 265.5h1M720 264.5h1M721 263.5h1M722 262.5h1M723 261.5h2M725 260.5h1M726 259.5h1M727 258.5h1M728 257.5h1M729 256.5h2M731 255.5h1M732 254.5h1M733 253.5h1M734 252.5h1M735 251.5h2M737 250.5h1M738 249.5h1M739 248.5h1M740 247.5h1M741 246.5h2M743 245.5h1M744 244.5h1M745 243.5h1M746 242.5h1M747 241.5h2M749 240.5h1M750 239.5h1M750 239.5h2M752 238.5h2M754 237.5h2M756 236.5h2M758 235.5h2M760 234.5h2M762 233.5h2M764 232.5h2M766 231.5h2M768 230.5h2M770 229.5h3M773 228.5h2M775 227.5h2M777 226.5h2M779 225.5h2M781 224.5h2M783 223.5h2M785 222.5h2M787 221.5h2M789 220.5h2M791 219.5h2M792 219.5h42M833 219.5h1M834 218.5h2M836 217.5h2M838 216.5h2M840 215.5h1M841 214.5h2M843 213.5h2M845 212.5h2M847 211.5h1M848 210.5h2M850 209.5h2M852 208.5h2M854 207.5h1M855 206.5h2M857 205.5h2M859 204.5h2M861 203.5h1M862 202.5h2M864 201.5h2M866 200.5h2M868 199.5h1M869 198.5h2M871 197.5h2M873 196.5h2M875 195.5h1M875 195.5h42M916.5 194v2M917.5 192v2M918.5 190v2M919.5 188v2M920.5 186v2M921.5 184v2M922.5 182v2M923.5 180v2M924.5 177v3M925.5 175v2M926.5 173v2M927.5 171v2M928.5 169v2M929.5 167v2M930.5 165v2M931.5 163v2M932.5 161v2M933.5 158v3M934.5 156v2M935.5 154v2M936.5 152v2M937.5 150v2M938.5 148v2M939.5 146v2M940.5 144v2M941.5 141v3M942.5 139v2M943.5 137v2M944.5 135v2M945.5 133v2M946.5 131v2M947.5 129v2M948.5 127v2M949.5 125v2M950.5 122v3M951.5 120v2M952.5 118v2M953.5 116v2M954.5 114v2M955.5 112v2M956.5 110v2M957.5 108v2M958.5 106v2" stroke="#808000"/>
<path d="M87.0 506.0h1v1h2v2h1v1h-1v2h-2v1h-1v-1h-2v-2h-1v-1h1v-2h2z" fill="#808000" shape-rendering="crispEdges"/>
<path d="M129.0 506.0h1v1h2v2h1v1h-1v2h-2v1h-1v-1h-2v-2h-1v-1h1v-2h2z" fill="#808000" shape-rendering="crispEdges"/>
<path d="M170.0 506.0h1v1h2v2h1v1h-1v2h-2v1h-1v-1h-2v-2h-1v-1h1v-2h2z" fill="#808000" shape-rendering="crispEdges"/>
<path d="M212.0 506.0h1v1h2v2h1v1h-1v2h-2v1h-1v-1h-2v-2h-1v-1h1v-2h2z" fill="#808000" shape-rendering="crispEdges"/>
<path d="M253.0 503.0h1v1h2v2h1v1h-1v2h-2v1h-1v-1h-2v-2h-1v-1h1v-2h2z" fill="#808000" shape-rendering="crispEdges"/>
<path d="M295.0 503.0h1v1h2v2h1v1h-1v2h-2v1h-1v-1h-2v-2h-1v-1h1v-2h2z" fill="#808000" shape-rendering="crispEdges"/>
<path d="M336.0 499.0h1v1h2v2h1v1h-1v2h-2v1h-1v-1h-2v-2h-1v-1h1v-2h2z" fill="#808000" shape-rendering="crispEdges"/>
<path d="M377.0 432.0h1v1h2v2h1v1h-1v2h-2v1h-1v-1h-2v-2h-1v-1h1v-2h2z" fill="#808000" shape-rendering="crispEdges"/>
<path d="M419.0 420.0h1v1h2v2h1v1h-1v2h-2v1h-1v-1h-2v-2h-1v-1h1v-2h2z" fill="#808000" shape-rendering="crispEdges"/>
<path d="M460.0 407.0h1v1h2v2h1v1h-1v2h-2v1h-1v-1h-2v-2h-1v-1h1v-2h2z" fill="#808000" shape-rendering="crispEdges"/>
<path d="M502.0 387.0h1v1h2v2h1v1h-1v2h-2v1h-1v-1h-2v-2h-1v-1h1v-2h2z" fill="#808000" shape-rendering="crispEdges"/>
<path d="M543.0 367.0h1v1h2v2h1v1h-1v2h-2v1h-1v-1h-2v-2h-1v-1h1v-2h2z" fill="#808000" shape-rendering="crispEdges"/>
<path d="M585.0 348.0h1v1h2v2h1v1h-1v2h-2v1h-1v-1h-2v-2h-1v-1h1v-2h2z" fill="#808000" shape-rendering="crispEdges"/>
<path d="M626.0 328.0h1v1h2v2h1v1h-1v2h-2v1h-1v-1h-2v-2h-1v-1h1v-2h2z" fill="#808000" shape-rendering="crispEdges"/>
<path d="M668.0 303.0h1v1h2v2h1v1h-1v2h-2v1h-1v-1h-2v-2h-1v-1h1v-2h2z" fill="#808000" shape-rendering="crispEdges"/>
<path d="M709.0 271.0h1v1h2v2h1v1h-1v2h-2v1h-1v-1h-2v-2h-1v-1h1v-2h2z" fill="#808000" shape-rendering="crispEdges"/>
<path d="M750.0 237.0h1v1h2v2h1v1h-1v2h-2v1h-1v-1h-2v-2h-1v-1h1v-2h2z" fill="#808000" shape-rendering="crispEdges"/>
<path d="M792.0 217.0h1v1h2v2h1v1h-1v2h-2v1h-1v-1h-2v-2h-1v-1h1v-2h2z" fill="#808000" shape-rendering="crispEdges"/>
<path d="M833.0 217.0h1v1h2v2h1v1h-1v2h-2v1h-1v-1h-2v-2h-1v-1h1v-2h2z" fill="#808000" shape-rendering="crispEdges"/>
<path d="M875.0 193.0h1v1h2v2h1v1h-1v2h-2v1h-1v-1h-2v-2h-1v-1h1v-2h2z" fill="#808000" shape-rendering="crispEdges"/>
<path d="M916.0 193.0h1v1h2v2h1v1h-1v2h-2v1h-1v-1h-2v-2h-1v-1h1v-2h2z" fill="#808000" shape-rendering="crispEdges"/>
<path d="M958.0 104.0h1v1h2v2h1v1h-1v2h-2v1h-1v-1h-2v-2h-1v-1h1v-2h2z" fill="#808000" shape-rendering="crispEdges"/>
<path d="M668 336.5h1M669 335.5h2M671 334.5h1M672 333.5h2M674 332.5h1M675 331.5h2M677 330.5h1M678 329.5h2M680 328.5h1M681 327.5h2M683 326.5h1M684 325.5h2M686 324.5h1M687 323.5h2M689 322.5h2M691 321.5h1M692 320.5h2M694 319.5h1M695 318.5h2M697 317.5h1M698 316.5h2M700 315.5h1M701 314.5h2M703 313.5h1M704 312.5h2M706 311.5h1M707 310.5h2M709 309.5h1M709 309.5h1M710 308.5h2M712 307.5h1M713 306.5h1M714 305.5h2M716 304.5h1M717 303.5h2M719 302.5h1M720 301.5h2M722 300.5h1M723 299.5h1M724 298.5h2M726 297.5h1M727 296.5h2M729 295.5h1M730 294.5h1M731 293.5h2M733 292.5h1M734 291.5h2M736 290.5h1M737 289.5h1M738 288.5h2M740 287.5h1M741 286.5h2M743 285.5h1M744 284.5h2M746 283.5h1M747 282.5h1M748 281.5h2M750 280.5h1M750 280.5h2M752 279.5h4M756 278.5h4M760 277.5h4M764 276.5h4M768 275.5h4M772 274.5h3M775 273.5h4M779 272.5h4M783 271.5h4M787 270.5h4M791 269.5h2M792 269.5h42M833 269.5h1M834 268.5h1M835 267.5h1M836 266.5h1M837 265.5h1M838 264.5h2M840 263.5h1M841 262.5h1M842 261.5h1M843 260.5h1M844 259.5h1M845 258.5h1M846 257.5h1M847 256.5h1M848 255.5h2M850 254.5h1M851 253.5h1M852 252.5h1M853 251.5h1M854 250.5h1M855 249.5h1M856 248.5h1M857 247.5h1M858 246.5h1M859 245.5h2M861 244.5h1M862 243.5h1M863 242.5h1M864 241.5h1M865 240.5h1M866 239.5h1M867 238.5h1M868 237.5h1M869 236.5h2M871 235.5h1M872 234.5h1M873 233.5h1M874 232.5h1M875 231.5h1M875.5 230v2M876.5 228v2M877.5 226v2M878.5 224v2M879.5 222v2M880.5 220v2M881.5 217v3M882.5 215v2M883.5 213v2M884.5 211v2M885.5 209v2M886.5 207v2M887.5 204v3M888.5 202v2M889.5 200v2M890.5 198v2M891.5 196v2M892.5 194v2M893.5 191v3M894.5 189v2M895.5 187v2M896.5 185v2M897.5 183v2M898.5 180v3M899.5 178v2M900.5 176v2M901.5 174v2M902.5 172v2M903.5 170v2M904.5 167v3M905.5 165v2M906.5 163v2M907.5 161v2M908.5 159v2M909.5 157v2M910.5 154v3M911.5 152v2M912.5 150v2M913.5 148v2M914.5 146v2M915.5 144v2M916.5 142v2M916 142.5h43" stroke="#ff00ff"/>
<path d="M668.0 334.0h1v1h2v2h1v1h-1v2h-2v1h-1v-1h-2v-2h-1v-1h1v-2h2z" fill="#ff00ff" shape-rendering="crispEdges"/>
<path d="M709.0 307.0h1v1h2v2h1v1h-1v2h-2v1h-1v-1h-2v-2h-1v-1h1v-2h2z" fill="#ff00ff" shape-rendering="crispEdges"/>
<path d="M750.0 278.0h1v1h2v2h1v1h-1v2h-2v1h-1v-1h-2v-2h-1v-1h1v-2h2z" fill="#ff00ff" shape-rendering="crispEdges"/>
<path d="M792.0 267.0h1v1h2v2h1v1h-1v2h-2v1h-1v-1h-2v-2h-1v-1h1v-2h2z" fill="#ff00ff" shape-rendering="crispEdges"/>
<path d="M833.0 267.0h1v1h2v2h1v1h-1v2h-2v1h-1v-1h-2v-2h-1v-1h1v-2h2z" fill="#ff00ff" shape-rendering="crispEdges"/>
<path d="M875.0 229.0h1v1h2v2h1v1h-1v2h-2v1h-1v-1h-2v-2h-1v-1h1v-2h2z" fill="#ff00ff" shape-rendering="crispEdges"/>
<path d="M916.0 140.0h1v1h2v2h1v1h-1v2h-2v1h-1v-1h-2v-2h-1v-1h1v-2h2z" fill="#ff00ff" shape-rendering="crispEdges"/>
<path d="M958.0 140.0h1v1h2v2h1v1h-1v2h-2v1h-1v-1h-2v-2h-1v-1h1v-2h2z" fill="#ff00ff" shape-rendering="crispEdges"/>
<path d="M87 495.5h43M129 495.5h2M131 496.5h2M133 497.5h2M135 498.5h2M137 499.5h2M139 500.5h2M141 501.5h2M143 502.5h2M145 503.5h2M147 504.5h2M149 505.5h2M151 506.5h2M153 507.5h2M155 508.5h2M157 509.5h2M159 510.5h2M161 511.5h2M163 512.5h2M165 513.5h2M167 514.5h2M169 515.5h2M170 515.5h43M212 515.5h2M214 514.5h2M216 513.5h3M219 512.5h2M221 511.5h3M224 510.5h3M227 509.5h2M229 508.5h3M232 507.5h2M234 506.5h3M237 505.5h2M239 504.5h3M242 503.5h3M245 502.5h2M247 501.5h3M250 500.5h2M252 499.5h2M253 499.5h2M255 498.5h2M257 497.5h2M259 496.5h2M261 495.5h2M263 494.5h3M266 493.5h2M268 492.5h2M270 491.5h2M272 490.5h3M275 489.5h2M277 488.5h2M279 487.5h2M281 486.5h2M283 485.5h3M286 484.5h2M288 483.5h2M290 482.5h2M292 481.5h2M294 480.5h2M295 480.5h3M298 479.5h5M303 478.5h5M308 477.5h5M313 476.5h6M319 475.5h5M324 474.5h5M329 473.5h5M334 472.5h3M336 472.5h3M339 471.5h6M345 470.5h6M351 469.5h6M357 468.5h6M363 467.5h6M369 466.5h6M375 465.5h3M377 465.5h2M379 464.5h3M382 463.5h3M385 462.5h2M387 461.5h3M390 460.5h3M393 459.5h3M396 458.5h3M399 457.5h2M401 456.5h3M404 455.5h3M407 454.5h3M410 453.5h3M413 452.5h2M415 451.5h3M418 450.5h2M419 450.5h2M421 449.5h3M424 448.5h3M427 447.5h4M431 446.5h3M434 445.5h3M437 444.5h3M440 443.5h3M443 442.5h3M446 441.5h3M449 440.5h4M453 439.5h3M456 438.5h3M459 437.5h2M460 437.5h2M462 436.5h3M465 435.5h3M468 434.5h2M470 433.5h3M473 432.5h3M476 431.5h3M479 430.5h3M482 429.5h2M484 428.5h3M487 427.5h3M490 426.5h3M493 425.5h3M496 424.5h2M498 423.5h3M501 422.5h2M502 422.5h2M504 421.5h3M507 420.5h3M510 419.5h3M513 418.5h3M516 417.5h3M519 416.5h3M522 415.5h2M524 414.5h3M527 413.5h3M530 412.5h3M533 411.5h3M536 410.5h3M539 409.5h3M542 408.5h2M543 408.5h1M544 407.5h2M546 406.5h1M547 405.5h2M549 404.5h1M550 403.5h2M552 402.5h1M553 401.5h2M555 400.5h1M556 399.5h2M558 398.5h1M559 397.5h2M561 396.5h1M562 395.5h2M564 394.5h1M565 393.5h2M567 392.5h1M568 391.5h2M570 390.5h1M571 389.5h2M573 388.5h1M574 387.5h2M576 386.5h1M577 385.5h2M579 384.5h1M580 383.5h2M582 382.5h1M583 381.5h2M585 380.5h1M585 380.5h2M587 379.5h3M590 378.5h2M592 377.5h3M595 376.5h3M598 375.5h3M601 374.5h2M603 373.5h3M606 372.5h3M609 371.5h2M611 370.5h3M614 369.5h3M617 368.5h3M620 367.5h2M622 366.5h3M625 365.5h2M626 365.5h2M628 364.5h2M630 363.5h3M633 362.5h2M635 361.5h3M638 360.5h2M640 359.5h3M643 358.5h2M645 357.5h3M648 356.5h2M650 355.5h2M652 354.5h3M655 353.5h2M657 352.5h3M660 351.5h2M662 350.5h3M665 349.5h2M667 348.5h2M668 348.5h1M669 347.5h2M671 346.5h2M673 345.5h2M675 344.5h2M677 343.5h1M678 342.5h2M680 341.5h2M682 340.5h2M684 339.5h1M685 338.5h2M687 337.5h2M689 336.5h2M691 335.5h2M693 334.5h1M694 333.5h2M696 332.5h2M698 331.5h2M700 330.5h1M701 329.5h2M703 328.5h2M705 327.5h2M707 326.5h2M709 325.5h1M709 325.5h1M710 324.5h2M712 323.5h2M714 322.5h1M715 321.5h2M717 320.5h2M719 319.5h2M721 318.5h1M722 317.5h2M724 316.5h2M726 315.5h1M727 314.5h2M729 313.5h2M731 312.5h2M733 311.5h1M734 310.5h2M736 309.5h2M738 308.5h1M739 307.5h2M741 306.5h2M743 305.5h2M745 304.5h1M746 303.5h2M748 302.5h2M750 301.5h1M750 301.5h2M752 300.5h4M756 299.5h4M760 298.5h4M764 297.5h4M768 296.5h4M772 295.5h3M775 294.5h4M779 293.5h4M783 292.5h4M787 291.5h4M791 290.5h2M792 290.5h42M833 290.5h1M834 289.5h1M835 288.5h1M836 287.5h2M838 286.5h1M839 285.5h1M840 284.5h1M841 283.5h1M842 282.5h1M843 281.5h2M845 280.5h1M846 279.5h1M847 278.5h1M848 277.5h1M849 276.5h1M850 275.5h2M852 274.5h1M853 273.5h1M854 272.5h1M855 271.5h1M856 270.5h1M857 269.5h2M859 268.5h1M860 267.5h1M861 266.5h1M862 265.5h1M863 264.5h1M864 263.5h2M866 262.5h1M867 261.5h1M868 260.5h1M869 259.5h1M870 258.5h1M871 257.5h2M873 256.5h1M874 255.5h1M875 254.5h1M875 254.5h42M916.5 254v1M917.5 252v2M918.5 251v1M919.5 250v1M920.5 248v2M921.5 247v1M922.5 246v1M923.5 244v2M924.5 243v1M925.5 242v1M926.5 240v2M927.5 239v1M928.5 238v1M929.5 236v2M930.5 235v1M931.5 233v2M932.5 232v1M933.5 231v1M934.5 229v2M935.5 228v1M936.5 227v1M937.5 225v2M938.5 224v1M939.5 223v1M940.5 221v2M941.5 220v1M942.5 219v1M943.5 217v2M944.5 216v1M945.5 214v2M946.5 213v1M947.5 212v1M948.5 210v2M949.5 209v1M950.5 208v1M951.5 206v2M952.5 205v1M953.5 204v1M954.5 202v2M955.5 201v1M956.5 200v1M957.5 198v2M958.5 197v1" stroke="#00ffff"/>
<path d="M87.0 493.0h1v1h2v2h1v1h-1v2h-2v1h-1v-1h-2v-2h-1v-1h1v-2h2z" fill="#00ffff" shape-rendering="crispEdges"/>
<path d="M129.0 493.0h1v1h2v2h1v1h-1v2h-2v1h-1v-1h-2v-2h-1v-1h1v-2h2z" fill="#00ffff" shape-rendering="crispEdges"/>
<path d="M170.0 513.0h1v1h2v2h1v1h-1v2h-2v1h-1v-1h-2v-2h-1v-1h1v-2h2z" fill="#00ffff" shape-rendering="crispEdges"/>
<path d="M212.0 513.0h1v1h2v2h1v1h-1v2h-2v1h-1v-1h-2v-2h-1v-1h1v-2h2z" fill="#00ffff" shape-rendering="crispEdges"/>
<path d="M253.0 497.0h1v1h2v2h1v1h-1v2h-2v1h-1v-1h-2v-2h-1v-1h1v-2h2z" fill="#00ffff" shape-rendering="crispEdges"/>
<path d="M295.0 478.0h1v1h2v2h1v1h-1v2h-2v1h-1v-1h-2v-2h-1v-1h1v-2h2z" fill="#00ffff" shape-rendering="crispEdges"/>
<path d="M336.0 470.0h1v1h2v2h1v1h-1v2h-2v1h-1v-1h-2v-2h-1v-1h1v-2h2z" fill="#00ffff" shape-rendering="crispEdges"/>
<path d="M377.0 463.0h1v1h2v2h1v1h-1v2h-2v1h-1v-1h-2v-2h-1v-1h1v-2h2z" fill="#00ffff" shape-rendering="crispEdges"/>
<path d="M419.0 448.0h1v1h2v2h1v1h-1v2h-2v1h-1v-1h-2v-2h-1v-1h1v-2h2z" fill="#00ffff" shape-rendering="crispEdges"/>
<path d="M460.0 435.0h1v1h2v2h1v1h-1v2h-2v1h-1v-1h-2v-2h-1v-1h1v-2h2z" fill="#00ffff" shape-rendering="crispEdges"/>
<path d="M502.0 420.0h1v1h2v2h1v1h-1v2h-2v1h-1v-1h-2v-2h-1v-1h1v-2h2z" fill="#00ffff" shape-rendering="crispEdges"/>
<path d="M543.0 406.0h1v1h2v2h1v1h-1v2h-2v1h-1v-1h-2v-2h-1v-1h1v-2h2z" fill="#00ffff" shape-rendering="crispEdges"/>
<path d="M585.0 378.0h1v1h2v2h1v1h-1v2h-2v1h-1v-1h-2v-2h-1v-1h1v-2h2z" fill="#00ffff" shape-rendering="crispEdges"/>
<path d="M626.0 363.0h1v1h2v2h1v1h-1v2h-2v1h-1v-1h-2v-2h-1v-1h1v-2h2z" fill="#00ffff" shape-rendering="crispEdges"/>
<path d="M668.0 346.0h1v1h2v2h1v1h-1v2h-2v1h-1v-1h-2v-2h-1v-1h1v-2h2z" fill="#00ffff" shape-rendering="crispEdges"/>
<path d="M709.0 323.0h1v1h2v2h1v1h-1v2h-2v1h-1v-1h-2v-2h-1v-1h1v-2h2z" fill="#00ffff" shape-rendering="crispEdges"/>
<path d="M750.0 299.0h1v1h2v2h1v1h-1v2h-2v1h-1v-1h-2v-2h-1v-1h1v-2h2z" fill="#00ffff" shape-rendering="crispEdges"/>
<path d="M792.0 288.0h1v1h2v2h1v1h-1v2h-2v1h-1v-1h-2v-2h-1v-1h1v-2h2z" fill="#00ffff" shape-rendering="crispEdges"/>
<path d="M833.0 288.0h1v1h2v2h1v1h-1v2h-2v1h-1v-1h-2v-2h-1v-1h1v-2h2z" fill="#00ffff" shape-rendering="crispEdges"/>
<path d="M875.0 252.0h1v1h2v2h1v1h-1v2h-2v1h-1v-1h-2v-2h-1v-1h1v-2h2z" fill="#00ffff" shape-rendering="crispEdges"/>
<path d="M916.0 252.0h1v1h2v2h1v1h-1v2h-2v1h-1v-1h-2v-2h-1v-1h1v-2h2z" fill="#00ffff" shape-rendering="crispEdges"/>
<path d="M958.0 195.0h1v1h2v2h1v1h-1v2h-2v1h-1v-1h-2v-2h-1v-1h1v-2h2z" fill="#00ffff" shape-rendering="crispEdges"/>
<path d="M253 477.5h1M254 476.5h2M256 475.5h2M258 474.5h2M260 473.5h1M261 472.5h2M263 471.5h2M265 470.5h2M267 469.5h1M268 468.5h2M270 467.5h2M272 466.5h2M274 465.5h1M275 464.5h2M277 463.5h2M279 462.5h2M281 461.5h1M282 460.5h2M284 459.5h2M286 458.5h2M288 457.5h1M289 456.5h2M291 455.5h2M293 454.5h2M295 453.5h1M295 453.5h1M296 452.5h1M297 451.5h1M298 450.5h1M299 449.5h1M300 448.5h1M301 447.5h1M302 446.5h1M303 445.5h1M304 444.5h1M305 443.5h1M306 442.5h1M307 441.5h1M308 440.5h1M309 439.5h1M310 438.5h1M311 437.5h1M312 436.5h1M313 435.5h1M314 434.5h1M315 433.5h1M316 432.5h1M317 431.5h1M318 430.5h1M319 429.5h1M320 428.5h1M321 427.5h1M322 426.5h1M323 425.5h1M324 424.5h1M325 423.5h1M326 422.5h1M327 421.5h1M328 420.5h1M329 419.5h1M330 418.5h1M331 417.5h1M332 416.5h1M333 415.5h1M334 414.5h1M335 413.5h1M336 412.5h1M336 412.5h2M338 413.5h4M342 414.5h3M345 415.5h3M348 416.5h4M352 417.5h3M355 418.5h4M359 419.5h3M362 420.5h4M366 421.5h3M369 422.5h3M372 423.5h4M376 424.5h2M377 424.5h2M379 423.5h3M382 422.5h4M386 421.5h3M389 420.5h3M392 419.5h3M395 418.5h4M399 417.5h3M402 416.5h3M405 415.5h3M408 414.5h3M411 413.5h4M415 412.5h3M418 411.5h2M419 411.5h2M421 410.5h2M423 409.5h3M426 408.5h2M428 407.5h3M431 406.5h3M434 405.5h2M436 404.5h3M439 403.5h2M441 402.5h3M444 401.5h2M446 400.5h3M449 399.5h3M452 398.5h2M454 397.5h3M457 396.5h2M459 395.5h2M460 395.5h2M462 394.5h2M464 393.5h2M466 392.5h3M469 391.5h2M471 390.5h2M473 389.5h3M476 388.5h2M478 387.5h2M480 386.5h3M483 385.5h2M485 384.5h2M487 383.5h3M490 382.5h2M492 381.5h2M494 380.5h3M497 379.5h2M499 378.5h2M501 377.5h2M502 377.5h2M504 376.5h3M507 375.5h3M510 374.5h4M514 373.5h3M517 372.5h3M520 371.5h3M523 370.5h3M526 369.5h3M529 368.5h3M532 367.5h4M536 366.5h3M539 365.5h3M542 364.5h2M543 364.5h2M545 363.5h3M548 362.5h3M551 361.5h2M553 360.5h3M556 359.5h3M559 358.5h3M562 357.5h3M565 356.5h2M567 355.5h3M570 354.5h3M573 353.5h3M576 352.5h3M579 351.5h2M581 350.5h3M584 349.5h2M585 349.5h2M587 348.5h3M590 347.5h3M593 346.5h4M597 345.5h3M600 344.5h3M603 343.5h3M606 342.5h3M609 341.5h3M612 340.5h3M615 339.5h4M619 338.5h3M622 337.5h3M625 336.5h2M626 336.5h2M628 335.5h3M631 334.5h3M634 333.5h2M636 332.5h3M639 331.5h3M642 330.5h3M645 329.5h3M648 328.5h2M650 327.5h3M653 326.5h3M656 325.5h3M659 324.5h3M662 323.5h2M664 322.5h3M667 321.5h2M668 321.5h1M669 320.5h2M671 319.5h2M673 318.5h2M675 317.5h2M677 316.5h1M678 315.5h2M680 314.5h2M682 313.5h2M684 312.5h1M685 311.5h2M687 310.5h2M689 309.5h2M691 308.5h2M693 307.5h1M694 306.5h2M696 305.5h2M698 304.5h2M700 303.5h1M701 302.5h2M703 301.5h2M705 300.5h2M707 299.5h2M709 298.5h1M709 298.5h1M710 297.5h2M712 296.5h2M714 295.5h1M715 294.5h2M717 293.5h2M719 292.5h1M720 291.5h2M722 290.5h1M723 289.5h2M725 288.5h2M727 287.5h1M728 286.5h2M730 285.5h2M732 284.5h1M733 283.5h2M735 282.5h2M737 281.5h1M738 280.5h2M740 279.5h1M741 278.5h2M743 277.5h2M745 276.5h1M746 275.5h2M748 274.5h2M750 273.5h1" stroke="#ffa500"/>
<path d="M875 239.5h42M916.5 239v1M917.5 237v2M918.5 235v2M919.5 233v2M920.5 232v1M921.5 230v2M922.5 228v2M923.5 226v2M924.5 225v1M925.5 223v2M926.5 221v2M927.5 220v1M928.5 218v2M929.5 216v2M930.5 214v2M931.5 213v1M932.5 211v2M933.5 209v2M934.5 207v2M935.5 206v1M936.5 204v2M937.5 202v2M938.5 200v2M939.5 199v1M940.5 197v2M941.5 195v2M942.5 193v2M943.5 192v1M944.5 190v2M945.5 188v2M946.5 186v2M947.5 185v1M948.5 183v2M949.5 181v2M950.5 180v1M951.5 178v2M952.5 176v2M953.5 174v2M954.5 173v1M955.5 171v2M956.5 169v2M957.5 167v2M958.5 166v1" stroke="#ffa500"/>
<path d="M253.0 475.0h1v1h2v2h1v1h-1v2h-2v1h-1v-1h-2v-2h-1v-1h1v-2h2z" fill="#ffa500" shape-rendering="crispEdges"/>
<path d="M295.0 451.0h1v1h2v2h1v1h-1v2h-2v1h-1v-1h-2v-2h-1v-1h1v-2h2z" fill="#ffa500" shape-rendering="crispEdges"/>
<path d="M336.0 410.0h1v1h2v2h1v1h-1v2h-2v1h-1v-1h-2v-2h-1v-1h1v-2h2z" fill="#ffa500" shape-rendering="crispEdges"/>
<path d="M377.0 422.0h1v1h2v2h1v1h-1v2h-2v1h-1v-1h-2v-2h-1v-1h1v-2h2z" fill="#ffa500" shape-rendering="crispEdges"/>
<path d="M419.0 409.0h1v1h2v2h1v1h-1v2h-2v1h-1v-1h-2v-2h-1v-1h1v-2h2z" fill="#ffa500" shape-rendering="crispEdges"/>
<path d="M460.0 393.0h1v1h2v2h1v1h-1v2h-2v1h-1v-1h-2v-2h-1v-1h1v-2h2z" fill="#ffa500" shape-rendering="crispEdges"/>
<path d="M502.0 375.0h1v1h2v2h1v1h-1v2h-2v1h-1v-1h-2v-2h-1v-1h1v-2h2z" fill="#ffa500" shape-rendering="crispEdges"/>
<path d="M543.0 362.0h1v1h2v2h1v1h-1v2h-2v1h-1v-1h-2v-2h-1v-1h1v-2h2z" fill="#ffa500" shape-rendering="crispEdges"/>
<path d="M585.0 347.0h1v1h2v2h1v1h-1v2h-2v1h-1v-1h-2v-2h-1v-1h1v-2h2z" fill="#ffa500" shape-rendering="crispEdges"/>
<path d="M626.0 334.0h1v1h2v2h1v1h-1v2h-2v1h-1v-1h-2v-2h-1v-1h1v-2h2z" fill="#ffa500" shape-rendering="crispEdges"/>
<path d="M668.0 319.0h1v1h2v2h1v1h-1v2h-2v1h-1v-1h-2v-2h-1v-1h1v-2h2z" fill="#ffa500" shape-rendering="crispEdges"/>
<path d="M709.0 296.0h1v1h2v2h1v1h-1v2h-2v1h-1v-1h-2v-2h-1v-1h1v-2h2z" fill="#ffa500" shape-rendering="crispEdges"/>
<path d="M750.0 271.0h1v1h2v2h1v1h-1v2h-2v1h-1v-1h-2v-2h-1v-1h1v-2h2z" fill="#ffa500" shape-rendering="crispEdges"/>
<path d="M875.0 237.0h1v1h2v2h1v1h-1v2h-2v1h-1v-1h-2v-2h-1v-1h1v-2h2z" fill="#ffa500" shape-rendering="crispEdges"/>
<path d="M916.0 237.0h1v1h2v2h1v1h-1v2h-2v1h-1v-1h-2v-2h-1v-1h1v-2h2z" fill="#ffa500" shape-rendering="crispEdges"/>
<path d="M958.0 164.0h1v1h2v2h1v1h-1v2h-2v1h-1v-1h-2v-2h-1v-1h1v-2h2z" fill="#ffa500" shape-rendering="crispEdges"/>
<path d="M87 488.5h43M129 488.5h42M170 488.5h43M212 488.5h2M214 487.5h2M216 486.5h3M219 485.5h2M221 484.5h2M223 483.5h3M226 482.5h2M228 481.5h3M231 480.5h2M233 479.5h2M235 478.5h3M238 477.5h2M240 476.5h3M243 475.5h2M245 474.5h2M247 473.5h3M250 472.5h2M252 471.5h2M253 471.5h2M255 470.5h2M257 469.5h2M259 468.5h2M261 467.5h2M263 466.5h3M266 465.5h2M268 464.5h2M270 463.5h2M272 462.5h3M275 461.5h2M277 460.5h2M279 459.5h2M281 458.5h2M283 457.5h3M286 456.5h2M288 455.5h2M290 454.5h2M292 453.5h2M294 452.5h2M295 452.5h3M298 451.5h6M304 450.5h6M310 449.5h6M316 448.5h6M322 447.5h6M328 446.5h6M334 445.5h3M336 445.5h3M339 444.5h4M343 443.5h5M348 442.5h4M352 441.5h5M357 440.5h5M362 439.5h4M366 438.5h5M371 437.5h4M375 436.5h3M377 436.5h2M379 435.5h2M381 434.5h3M384 433.5h2M386 432.5h3M389 431.5h2M391 430.5h3M394 429.5h2M396 428.5h3M399 427.5h2M401 426.5h2M403 425.5h3M406 424.5h2M408 423.5h3M411 422.5h2M413 421.5h3M416 420.5h2M418 419.5h2" stroke="#ff0000"/>
<path d="M502 358.5h42M543 358.5h4M547 357.5h6M553 356.5h6M559 355.5h6M565 354.5h6M571 353.5h6M577 352.5h6M583 351.5h3M585 351.5h2M587 350.5h3M590 349.5h3M593 348.5h3M596 347.5h3M599 346.5h3M602 345.5h3M605 344.5h2M607 343.5h3M610 342.5h3M613 341.5h3M616 340.5h3M619 339.5h3M622 338.5h3M625 337.5h2M626 337.5h2M628 336.5h2M630 335.5h3M633 334.5h3M636 333.5h2M638 332.5h3M641 331.5h3M644 330.5h2M646 329.5h3M649 328.5h2M651 327.5h3M654 326.5h3M657 325.5h2M659 324.5h3M662 323.5h3M665 322.5h2M667 321.5h2M668 321.5h1M669 320.5h2M671 319.5h2M673 318.5h1M674 317.5h2M676 316.5h2M678 315.5h2M680 314.5h1M681 313.5h2M683 312.5h2M685 311.5h1M686 310.5h2M688 309.5h2M690 308.5h2M692 307.5h1M693 306.5h2M695 305.5h2M697 304.5h1M698 303.5h2M700 302.5h2M702 301.5h2M704 300.5h1M705 299.5h2M707 298.5h2M709 297.5h1M709 297.5h1M710 296.5h2M712 295.5h2M714 294.5h1M715 293.5h2M717 292.5h2M719 291.5h2M721 290.5h1M722 289.5h2M724 288.5h2M726 287.5h1M727 286.5h2M729 285.5h2M731 284.5h2M733 283.5h1M734 282.5h2M736 281.5h2M738 280.5h1M739 279.5h2M741 278.5h2M743 277.5h2M745 276.5h1M746 275.5h2M748 274.5h2M750 273.5h1M750 273.5h2M752 272.5h4M756 271.5h3M759 270.5h4M763 269.5h3M766 268.5h4M770 267.5h3M773 266.5h4M777 265.5h3M780 264.5h4M784 263.5h3M787 262.5h4M791 261.5h2M792 261.5h2M794 260.5h2M796 259.5h2M798 258.5h2M800 257.5h3M803 256.5h2M805 255.5h2M807 254.5h3M810 253.5h2M812 252.5h2M814 251.5h2M816 250.5h3M819 249.5h2M821 248.5h2M823 247.5h3M826 246.5h2M828 245.5h2M830 244.5h2M832 243.5h2M833.5 243v1M834.5 241v2M835.5 239v2M836.5 237v2M837.5 235v2M838.5 233v2M839.5 232v1M840.5 230v2M841.5 228v2M842.5 226v2M843.5 224v2M844.5 222v2M845.5 221v1M846.5 219v2M847.5 217v2M848.5 215v2M849.5 213v2M850.5 211v2M851.5 210v1M852.5 208v2M853.5 206v2M854.5 204v2M855.5 202v2M856.5 200v2M857.5 199v1M858.5 197v2M859.5 195v2M860.5 193v2M861.5 191v2M862.5 189v2M863.5 188v1M864.5 186v2M865.5 184v2M866.5 182v2M867.5 180v2M868.5 178v2M869.5 177v1M870.5 175v2M871.5 173v2M872.5 171v2M873.5 169v2M874.5 167v2M875.5 166v1M875 166.5h1M876 165.5h2M878 164.5h1M879 163.5h2M881 162.5h1M882 161.5h2M884 160.5h1M885 159.5h1M886 158.5h2M888 157.5h1M889 156.5h2M891 155.5h1M892 154.5h2M894 153.5h1M895 152.5h2M897 151.5h1M898 150.5h2M900 149.5h1M901 148.5h2M903 147.5h1M904 146.5h2M906 145.5h1M907 144.5h1M908 143.5h2M910 142.5h1M911 141.5h2M913 140.5h1M914 139.5h2M916 138.5h1M916.5 138v1M917.5 137v1M918.5 136v1M919.5 135v1M920.5 134v1M921.5 133v1M922.5 132v1M923.5 131v1M924.5 130v1M925.5 129v1M926.5 128v1M927.5 127v1M928.5 126v1M929.5 125v1M930.5 124v1M931.5 123v1M932.5 122v1M933.5 121v1M934.5 120v1M935.5 119v1M936.5 118v1M937.5 116v2M938.5 115v1M939.5 114v1M940.5 113v1M941.5 112v1M942.5 111v1M943.5 110v1M944.5 109v1M945.5 108v1M946.5 107v1M947.5 106v1M948.5 105v1M949.5 104v1M950.5 103v1M951.5 102v1M952.5 101v1M953.5 100v1M954.5 99v1M955.5 98v1M956.5 97v1M957.5 96v1M958.5 95v1" stroke="#ff0000"/>
<path d="M84.0 486.0L91.0 493.0M84.0 493.0L91.0 486.0" stroke="#ff0000" stroke-width="1" fill="none" shape-rendering="crispEdges"/>
<path d="M126.0 486.0L133.0 493.0M126.0 493.0L133.0 486.0" stroke="#ff0000" stroke-width="1" fill="none" shape-rendering="crispEdges"/>
<path d="M167.0 486.0L174.0 493.0M167.0 493.0L174.0 486.0" stroke="#ff0000" stroke-width="1" fill="none" shape-rendering="crispEdges"/>
<path d="M209.0 486.0L216.0 493.0M209.0 493.0L216.0 486.0" stroke="#ff0000" stroke-width="1" fill="none" shape-rendering="crispEdges"/>
<path d="M250.0 469.0L257.0 476.0M250.0 476.0L257.0 469.0" stroke="#ff0000" stroke-width="1" fill="none" shape-rendering="crispEdges"/>
<path d="M292.0 450.0L299.0 457.0M292.0 457.0L299.0 450.0" stroke="#ff0000" stroke-width="1" fill="none" shape-rendering="crispEdges"/>
<path d="M333.0 443.0L340.0 450.0M333.0 450.0L340.0 443.0" stroke="#ff0000" stroke-width="1" fill="none" shape-rendering="crispEdges"/>
<path d="M374.0 434.0L381.0 441.0M374.0 441.0L381.0 434.0" stroke="#ff0000" stroke-width="1" fill="none" shape-rendering="crispEdges"/>
<path d="M416.0 417.0L423.0 424.0M416.0 424.0L423.0 417.0" stroke="#ff0000" stroke-width="1" fill="none" shape-rendering="crispEdges"/>
<path d="M499.0 356.0L506.0 363.0M499.0 363.0L506.0 356.0" stroke="#ff0000" stroke-width="1" fill="none" shape-rendering="crispEdges"/>
<path d="M540.0 356.0L547.0 363.0M540.0 363.0L547.0 356.0" stroke="#ff0000" stroke-width="1" fill="none" shape-rendering="crispEdges"/>
<path d="M582.0 349.0L589.0 356.0M582.0 356.0L589.0 349.0" stroke="#ff0000" stroke-width="1" fill="none" shape-rendering="crispEdges"/>
<path d="M623.0 335.0L630.0 342.0M623.0 342.0L630.0 335.0" stroke="#ff0000" stroke-width="1" fill="none" shape-rendering="crispEdges"/>
<path d="M665.0 319.0L672.0 326.0M665.0 326.0L672.0 319.0" stroke="#ff0000" stroke-width="1" fill="none" shape-rendering="crispEdges"/>
<path d="M706.0 295.0L713.0 302.0M706.0 302.0L713.0 295.0" stroke="#ff0000" stroke-width="1" fill="none" shape-rendering="crispEdges"/>
<path d="M747.0 271.0L754.0 278.0M747.0 278.0L754.0 271.0" stroke="#ff0000" stroke-width="1" fill="none" shape-rendering="crispEdges"/>
<path d="M789.0 259.0L796.0 266.0M789.0 266.0L796.0 259.0" stroke="#ff0000" stroke-width="1" fill="none" shape-rendering="crispEdges"/>
<path d="M830.0 241.0L837.0 248.0M830.0 248.0L837.0 241.0" stroke="#ff0000" stroke-width="1" fill="none" shape-rendering="crispEdges"/>
<path d="M872.0 164.0L879.0 171.0M872.0 171.0L879.0 164.0" stroke="#ff0000" stroke-width="1" fill="none" shape-rendering="crispEdges"/>
<path d="M913.0 136.0L920.0 143.0M913.0 143.0L920.0 136.0" stroke="#ff0000" stroke-width="1" fill="none" shape-rendering="crispEdges"/>
<path d="M955.0 93.0L962.0 100.0M955.0 100.0L962.0 93.0" stroke="#ff0000" stroke-width="1" fill="none" shape-rendering="crispEdges"/>
<path d="M253.5 525v1M254.5 523v2M255.5 522v1M256.5 520v2M257.5 519v1M258.5 517v2M259.5 516v1M260.5 514v2M261.5 513v1M262.5 511v2M263.5 510v1M264.5 509v1M265.5 507v2M266.5 506v1M267.5 504v2M268.5 503v1M269.5 501v2M270.5 500v1M271.5 498v2M272.5 497v1M273.5 495v2M274.5 494v1M275.5 492v2M276.5 491v1M277.5 489v2M278.5 488v1M279.5 486v2M280.5 485v1M281.5 483v2M282.5 482v1M283.5 480v2M284.5 479v1M285.5 478v1M286.5 476v2M287.5 475v1M288.5 473v2M289.5 472v1M290.5 470v2M291.5 469v1M292.5 467v2M293.5 466v1M294.5 464v2M295.5 463v1M295 463.5h4M299 462.5h7M306 461.5h7M313 460.5h6M319 459.5h7M326 458.5h7M333 457.5h4M336 457.5h3M339 456.5h4M343 455.5h4M347 454.5h4M351 453.5h4M355 452.5h4M359 451.5h4M363 450.5h4M367 449.5h4M371 448.5h4M375 447.5h3M377 447.5h2M379 446.5h3M382 445.5h3M385 444.5h3M388 443.5h3M391 442.5h3M394 441.5h3M397 440.5h3M400 439.5h3M403 438.5h3M406 437.5h3M409 436.5h3M412 435.5h3M415 434.5h3M418 433.5h2M419 433.5h2M421 432.5h3M424 431.5h2M426 430.5h3M429 429.5h3M432 428.5h3M435 427.5h2M437 426.5h3M440 425.5h3M443 424.5h2M445 423.5h3M448 422.5h3M451 421.5h3M454 420.5h2M456 419.5h3M459 418.5h2M460 418.5h2M462 417.5h3M465 416.5h3M468 415.5h3M471 414.5h3M474 413.5h3M477 412.5h3M480 411.5h3M483 410.5h3M486 409.5h3M489 408.5h3M492 407.5h3M495 406.5h3M498 405.5h3M501 404.5h2M502 404.5h2M504 403.5h3M507 402.5h3M510 401.5h4M514 400.5h3M517 399.5h3M520 398.5h3M523 397.5h3M526 396.5h3M529 395.5h3M532 394.5h4M536 393.5h3M539 392.5h3M542 391.5h2M543 391.5h2M545 390.5h3M548 389.5h3M551 388.5h3M554 387.5h3M557 386.5h3M560 385.5h3M563 384.5h3M566 383.5h3M569 382.5h3M572 381.5h3M575 380.5h3M578 379.5h3M581 378.5h3M584 377.5h2M585 377.5h3M588 376.5h4M592 375.5h4M596 374.5h4M600 373.5h4M604 372.5h4M608 371.5h4M612 370.5h4M616 369.5h4M620 368.5h4M624 367.5h3M626 367.5h2M628 366.5h3M631 365.5h3M634 364.5h2M636 363.5h3M639 362.5h3M642 361.5h3M645 360.5h3M648 359.5h2M650 358.5h3M653 357.5h3M656 356.5h3M659 355.5h3M662 354.5h2M664 353.5h3M667 352.5h2M668 352.5h1M669 351.5h2M671 350.5h2M673 349.5h2M675 348.5h2M677 347.5h1M678 346.5h2M680 345.5h2M682 344.5h2M684 343.5h1M685 342.5h2M687 341.5h2M689 340.5h2M691 339.5h2M693 338.5h1M694 337.5h2M696 336.5h2M698 335.5h2M700 334.5h1M701 333.5h2M703 332.5h2M705 331.5h2M707 330.5h2M709 329.5h1M709 329.5h2M711 328.5h2M713 327.5h2M715 326.5h2M717 325.5h2M719 324.5h2M721 323.5h2M723 322.5h2M725 321.5h2M727 320.5h2M729 319.5h2M731 318.5h2M733 317.5h2M735 316.5h2M737 315.5h2M739 314.5h2M741 313.5h2M743 312.5h2M745 311.5h2M747 310.5h2M749 309.5h2M750 309.5h1M751 308.5h2M753 307.5h1M754 306.5h2M756 305.5h2M758 304.5h1M759 303.5h2M761 302.5h1M762 301.5h2M764 300.5h1M765 299.5h2M767 298.5h1M768 297.5h2M770 296.5h2M772 295.5h1M773 294.5h2M775 293.5h1M776 292.5h2M778 291.5h1M779 290.5h2M781 289.5h1M782 288.5h2M784 287.5h2M786 286.5h1M787 285.5h2M789 284.5h1M790 283.5h2M792 282.5h1M792 282.5h42M833 282.5h1M834 281.5h2M836 280.5h2M838 279.5h2M840 278.5h2M842 277.5h2M844 276.5h2M846 275.5h2M848 274.5h2M850 273.5h2M852 272.5h2M854 271.5h1M855 270.5h2M857 269.5h2M859 268.5h2M861 267.5h2M863 266.5h2M865 265.5h2M867 264.5h2M869 263.5h2M871 262.5h2M873 261.5h2M875 260.5h1M875 260.5h21M896 259.5h21M916.5 259v1M917.5 257v2M918.5 255v2M919.5 253v2M920.5 252v1M921.5 250v2M922.5 248v2M923.5 246v2M924.5 245v1M925.5 243v2M926.5 241v2M927.5 239v2M928.5 237v2M929.5 236v1M930.5 234v2M931.5 232v2M932.5 230v2M933.5 229v1M934.5 227v2M935.5 225v2M936.5 223v2M937.5 222v1M938.5 220v2M939.5 218v2M940.5 216v2M941.5 215v1M942.5 213v2M943.5 211v2M944.5 209v2M945.5 208v1M946.5 206v2M947.5 204v2M948.5 202v2M949.5 200v2M950.5 199v1M951.5 197v2M952.5 195v2M953.5 193v2M954.5 192v1M955.5 190v2M956.5 188v2M957.5 186v2M958.5 185v1" stroke="#00ff00"/>
<path d="M250.0 523.0L257.0 530.0M250.0 530.0L257.0 523.0" stroke="#00ff00" stroke-width="1" fill="none" shape-rendering="crispEdges"/>
<path d="M292.0 461.0L299.0 468.0M292.0 468.0L299.0 461.0" stroke="#00ff00" stroke-width="1" fill="none" shape-rendering="crispEdges"/>
<path d="M333.0 455.0L340.0 462.0M333.0 462.0L340.0 455.0" stroke="#00ff00" stroke-width="1" fill="none" shape-rendering="crispEdges"/>
<path d="M374.0 445.0L381.0 452.0M374.0 452.0L381.0 445.0" stroke="#00ff00" stroke-width="1" fill="none" shape-rendering="crispEdges"/>
<path d="M416.0 431.0L423.0 438.0M416.0 438.0L423.0 431.0" stroke="#00ff00" stroke-width="1" fill="none" shape-rendering="crispEdges"/>
<path d="M457.0 416.0L464.0 423.0M457.0 423.0L464.0 416.0" stroke="#00ff00" stroke-width="1" fill="none" shape-rendering="crispEdges"/>
<path d="M499.0 402.0L506.0 409.0M499.0 409.0L506.0 402.0" stroke="#00ff00" stroke-width="1" fill="none" shape-rendering="crispEdges"/>
<path d="M540.0 389.0L547.0 396.0M540.0 396.0L547.0 389.0" stroke="#00ff00" stroke-width="1" fill="none" shape-rendering="crispEdges"/>
<path d="M582.0 375.0L589.0 382.0M582.0 382.0L589.0 375.0" stroke="#00ff00" stroke-width="1" fill="none" shape-rendering="crispEdges"/>
<path d="M623.0 365.0L630.0 372.0M623.0 372.0L630.0 365.0" stroke="#00ff00" stroke-width="1" fill="none" shape-rendering="crispEdges"/>
<path d="M665.0 350.0L672.0 357.0M665.0 357.0L672.0 350.0" stroke="#00ff00" stroke-width="1" fill="none" shape-rendering="crispEdges"/>
<path d="M706.0 327.0L713.0 334.0M706.0 334.0L713.0 327.0" stroke="#00ff00" stroke-width="1" fill="none" shape-rendering="crispEdges"/>
<path d="M747.0 307.0L754.0 314.0M747.0 314.0L754.0 307.0" stroke="#00ff00" stroke-width="1" fill="none" shape-rendering="crispEdges"/>
<path d="M789.0 280.0L796.0 287.0M789.0 287.0L796.0 280.0" stroke="#00ff00" stroke-width="1" fill="none" shape-rendering="crispEdges"/>
<path d="M830.0 280.0L837.0 287.0M830.0 287.0L837.0 280.0" stroke="#00ff00" stroke-width="1" fill="none" shape-rendering="crispEdges"/>
<path d="M872.0 258.0L879.0 265.0M872.0 265.0L879.0 258.0" stroke="#00ff00" stroke-width="1" fill="none" shape-rendering="crispEdges"/>
<path d="M913.0 257.0L920.0 264.0M913.0 264.0L920.0 257.0" stroke="#00ff00" stroke-width="1" fill="none" shape-rendering="crispEdges"/>
<path d="M955.0 183.0L962.0 190.0M955.0 190.0L962.0 183.0" stroke="#00ff00" stroke-width="1" fill="none" shape-rendering="crispEdges"/>
<path d="M253 499.5h2M255 498.5h2M257 497.5h2M259 496.5h2M261 495.5h2M263 494.5h2M265 493.5h2M267 492.5h2M269 491.5h2M271 490.5h2M273 489.5h3M276 488.5h2M278 487.5h2M280 486.5h2M282 485.5h2M284 484.5h2M286 483.5h2M288 482.5h2M290 481.5h2M292 480.5h2M294 479.5h2M295 479.5h3M298 478.5h6M304 477.5h6M310 476.5h6M316 475.5h6M322 474.5h6M328 473.5h6M334 472.5h3M336 472.5h3M339 471.5h5M344 470.5h5M349 469.5h5M354 468.5h6M360 467.5h5M365 466.5h5M370 465.5h5M375 464.5h3M377 464.5h2M379 463.5h3M382 462.5h3M385 461.5h3M388 460.5h3M391 459.5h3M394 458.5h3M397 457.5h3M400 456.5h3M403 455.5h3M406 454.5h3M409 453.5h3M412 452.5h3M415 451.5h3M418 450.5h2M419 450.5h2M421 449.5h2M423 448.5h3M426 447.5h2M428 446.5h2M430 445.5h3M433 444.5h2M435 443.5h3M438 442.5h2M440 441.5h2M442 440.5h3M445 439.5h2M447 438.5h3M450 437.5h2M452 436.5h2M454 435.5h3M457 434.5h2M459 433.5h2M460 433.5h2M462 432.5h2M464 431.5h2M466 430.5h2M468 429.5h2M470 428.5h3M473 427.5h2M475 426.5h2M477 425.5h2M479 424.5h3M482 423.5h2M484 422.5h2M486 421.5h2M488 420.5h2M490 419.5h3M493 418.5h2M495 417.5h2M497 416.5h2M499 415.5h2M501 414.5h2M502 414.5h2M504 413.5h2M506 412.5h2M508 411.5h2M510 410.5h3M513 409.5h2M515 408.5h2M517 407.5h3M520 406.5h2M522 405.5h2M524 404.5h2M526 403.5h3M529 402.5h2M531 401.5h2M533 400.5h3M536 399.5h2M538 398.5h2M540 397.5h2M542 396.5h2M543 396.5h2M545 395.5h4M549 394.5h3M552 393.5h4M556 392.5h3M559 391.5h4M563 390.5h3M566 389.5h4M570 388.5h3M573 387.5h4M577 386.5h3M580 385.5h4M584 384.5h2M585 384.5h1M586 383.5h1M587 382.5h2M589 381.5h1M590 380.5h1M591 379.5h1M592 378.5h2M594 377.5h1M595 376.5h1M596 375.5h1M597 374.5h2M599 373.5h1M600 372.5h1M601 371.5h1M602 370.5h2M604 369.5h1M605 368.5h1M606 367.5h1M607 366.5h1M608 365.5h2M610 364.5h1M611 363.5h1M612 362.5h1M613 361.5h2M615 360.5h1M616 359.5h1M617 358.5h1M618 357.5h2M620 356.5h1M621 355.5h1M622 354.5h1M623 353.5h2M625 352.5h1M626 351.5h1M626 351.5h2M628 350.5h3M631 349.5h3M634 348.5h3M637 347.5h3M640 346.5h3M643 345.5h3M646 344.5h3M649 343.5h3M652 342.5h3M655 341.5h3M658 340.5h3M661 339.5h3M664 338.5h3M667 337.5h2M668 337.5h1M669 336.5h2M671 335.5h2M673 334.5h2M675 333.5h2M677 332.5h1M678 331.5h2M680 330.5h2M682 329.5h2M684 328.5h1M685 327.5h2M687 326.5h2M689 325.5h2M691 324.5h2M693 323.5h1M694 322.5h2M696 321.5h2M698 320.5h2M700 319.5h1M701 318.5h2M703 317.5h2M705 316.5h2M707 315.5h2M709 314.5h1M709 314.5h1M710 313.5h2M712 312.5h1M713 311.5h2M715 310.5h1M716 309.5h2M718 308.5h1M719 307.5h2M721 306.5h1M722 305.5h2M724 304.5h1M725 303.5h2M727 302.5h1M728 301.5h2M730 300.5h2M732 299.5h1M733 298.5h2M735 297.5h1M736 296.5h2M738 295.5h1M739 294.5h2M741 293.5h1M742 292.5h2M744 291.5h1M745 290.5h2M747 289.5h1M748 288.5h2M750 287.5h1M750 287.5h2M752 286.5h4M756 285.5h4M760 284.5h4M764 283.5h4M768 282.5h4M772 281.5h3M775 280.5h4M779 279.5h4M783 278.5h4M787 277.5h4M791 276.5h2M792 276.5h42M833 276.5h1M834 275.5h2M836 274.5h2M838 273.5h1M839 272.5h2M841 271.5h2M843 270.5h1M844 269.5h2M846 268.5h2M848 267.5h1M849 266.5h2M851 265.5h2M853 264.5h2M855 263.5h1M856 262.5h2M858 261.5h2M860 260.5h1M861 259.5h2M863 258.5h2M865 257.5h1M866 256.5h2M868 255.5h2M870 254.5h1M871 253.5h2M873 252.5h2M875 251.5h1M875 251.5h42M916.5 251v1M917.5 249v2M918.5 247v2M919.5 246v1M920.5 244v2M921.5 242v2M922.5 241v1M923.5 239v2M924.5 237v2M925.5 236v1M926.5 234v2M927.5 232v2M928.5 231v1M929.5 229v2M930.5 227v2M931.5 226v1M932.5 224v2M933.5 222v2M934.5 221v1M935.5 219v2M936.5 217v2M937.5 216v1M938.5 214v2M939.5 212v2M940.5 211v1M941.5 209v2M942.5 207v2M943.5 206v1M944.5 204v2M945.5 202v2M946.5 201v1M947.5 199v2M948.5 197v2M949.5 196v1M950.5 194v2M951.5 192v2M952.5 191v1M953.5 189v2M954.5 187v2M955.5 186v1M956.5 184v2M957.5 182v2M958.5 181v1" stroke="#0000ff"/>
<path d="M250.0 497.0L257.0 504.0M250.0 504.0L257.0 497.0" stroke="#0000ff" stroke-width="1" fill="none" shape-rendering="crispEdges"/>
<path d="M292.0 477.0L299.0 484.0M292.0 484.0L299.0 477.0" stroke="#0000ff" stroke-width="1" fill="none" shape-rendering="crispEdges"/>
<path d="M333.0 470.0L340.0 477.0M333.0 477.0L340.0 470.0" stroke="#0000ff" stroke-width="1" fill="none" shape-rendering="crispEdges"/>
<path d="M374.0 462.0L381.0 469.0M374.0 469.0L381.0 462.0" stroke="#0000ff" stroke-width="1" fill="none" shape-rendering="crispEdges"/>
<path d="M416.0 448.0L423.0 455.0M416.0 455.0L423.0 448.0" stroke="#0000ff" stroke-width="1" fill="none" shape-rendering="crispEdges"/>
<path d="M457.0 431.0L464.0 438.0M457.0 438.0L464.0 431.0" stroke="#0000ff" stroke-width="1" fill="none" shape-rendering="crispEdges"/>
<path d="M499.0 412.0L506.0 419.0M499.0 419.0L506.0 412.0" stroke="#0000ff" stroke-width="1" fill="none" shape-rendering="crispEdges"/>
<path d="M540.0 394.0L547.0 401.0M540.0 401.0L547.0 394.0" stroke="#0000ff" stroke-width="1" fill="none" shape-rendering="crispEdges"/>
<path d="M582.0 382.0L589.0 389.0M582.0 389.0L589.0 382.0" stroke="#0000ff" stroke-width="1" fill="none" shape-rendering="crispEdges"/>
<path d="M623.0 349.0L630.0 356.0M623.0 356.0L630.0 349.0" stroke="#0000ff" stroke-width="1" fill="none" shape-rendering="crispEdges"/>
<path d="M665.0 335.0L672.0 342.0M665.0 342.0L672.0 335.0" stroke="#0000ff" stroke-width="1" fill="none" shape-rendering="crispEdges"/>
<path d="M706.0 312.0L713.0 319.0M706.0 319.0L713.0 312.0" stroke="#0000ff" stroke-width="1" fill="none" shape-rendering="crispEdges"/>
<path d="M747.0 285.0L754.0 292.0M747.0 292.0L754.0 285.0" stroke="#0000ff" stroke-width="1" fill="none" shape-rendering="crispEdges"/>
<path d="M789.0 274.0L796.0 281.0M789.0 281.0L796.0 274.0" stroke="#0000ff" stroke-width="1" fill="none" shape-rendering="crispEdges"/>
<path d="M830.0 274.0L837.0 281.0M830.0 281.0L837.0 274.0" stroke="#0000ff" stroke-width="1" fill="none" shape-rendering="crispEdges"/>
<path d="M872.0 249.0L879.0 256.0M872.0 256.0L879.0 249.0" stroke="#0000ff" stroke-width="1" fill="none" shape-rendering="crispEdges"/>
<path d="M913.0 249.0L920.0 256.0M913.0 256.0L920.0 249.0" stroke="#0000ff" stroke-width="1" fill="none" shape-rendering="crispEdges"/>
<path d="M955.0 179.0L962.0 186.0M955.0 186.0L962.0 179.0" stroke="#0000ff" stroke-width="1" fill="none" shape-rendering="crispEdges"/>
<path d="M87 492.5h43M129 492.5h3M132 493.5h4M136 494.5h5M141 495.5h4M145 496.5h5M150 497.5h5M155 498.5h4M159 499.5h5M164 500.5h4M168 501.5h3M170 501.5h43M212 501.5h2M214 500.5h2M216 499.5h3M219 498.5h2M221 497.5h3M224 496.5h3M227 495.5h2M229 494.5h3M232 493.5h2M234 492.5h3M237 491.5h2M239 490.5h3M242 489.5h3M245 488.5h2M247 487.5h3M250 486.5h2M252 485.5h2M253 485.5h2M255 484.5h2M257 483.5h2M259 482.5h2M261 481.5h2M263 480.5h2M265 479.5h2M267 478.5h2M269 477.5h2M271 476.5h2M273 475.5h3M276 474.5h2M278 473.5h2M280 472.5h2M282 471.5h2M284 470.5h2M286 469.5h2M288 468.5h2M290 467.5h2M292 466.5h2M294 465.5h2M295 465.5h3M298 464.5h5M303 463.5h5M308 462.5h5M313 461.5h6M319 460.5h5M324 459.5h5M329 458.5h5M334 457.5h3M336 457.5h3M339 456.5h4M343 455.5h4M347 454.5h4M351 453.5h4M355 452.5h4M359 451.5h4M363 450.5h4M367 449.5h4M371 448.5h4M375 447.5h3M377 447.5h2M379 446.5h3M382 445.5h3M385 444.5h3M388 443.5h3M391 442.5h3M394 441.5h3M397 440.5h3M400 439.5h3M403 438.5h3M406 437.5h3M409 436.5h3M412 435.5h3M415 434.5h3M418 433.5h2M419 433.5h2M421 432.5h3M424 431.5h3M427 430.5h4M431 429.5h3M434 428.5h3M437 427.5h3M440 426.5h3M443 425.5h3M446 424.5h3M449 423.5h4M453 422.5h3M456 421.5h3M459 420.5h2M460 420.5h2M462 419.5h4M466 418.5h3M469 417.5h4M473 416.5h3M476 415.5h4M480 414.5h3M483 413.5h4M487 412.5h3M490 411.5h4M494 410.5h3M497 409.5h4M501 408.5h2M502 408.5h1M503 407.5h2M505 406.5h1M506 405.5h2M508 404.5h1M509 403.5h2M511 402.5h1M512 401.5h2M514 400.5h1M515 399.5h2M517 398.5h1M518 397.5h2M520 396.5h1M521 395.5h2M523 394.5h2M525 393.5h1M526 392.5h2M528 391.5h1M529 390.5h2M531 389.5h1M532 388.5h2M534 387.5h1M535 386.5h2M537 385.5h1M538 384.5h2M540 383.5h1M541 382.5h2M543 381.5h1M543 381.5h2M545 380.5h3M548 379.5h3M551 378.5h2M553 377.5h3M556 376.5h3M559 375.5h3M562 374.5h3M565 373.5h2M567 372.5h3M570 371.5h3M573 370.5h3M576 369.5h3M579 368.5h2M581 367.5h3M584 366.5h2M585 366.5h2M587 365.5h3M590 364.5h3M593 363.5h4M597 362.5h3M600 361.5h3M603 360.5h3M606 359.5h3M609 358.5h3M612 357.5h3M615 356.5h4M619 355.5h3M622 354.5h3M625 353.5h2M626 353.5h2M628 352.5h2M630 351.5h3M633 350.5h3M636 349.5h2M638 348.5h3M641 347.5h3M644 346.5h2M646 345.5h3M649 344.5h2M651 343.5h3M654 342.5h3M657 341.5h2M659 340.5h3M662 339.5h3M665 338.5h2M667 337.5h2M668 337.5h1M669 336.5h2M671 335.5h2M673 334.5h1M674 333.5h2M676 332.5h2M678 331.5h2M680 330.5h1M681 329.5h2M683 328.5h2M685 327.5h1M686 326.5h2M688 325.5h2M690 324.5h2M692 323.5h1M693 322.5h2M695 321.5h2M697 320.5h1M698 319.5h2M700 318.5h2M702 317.5h2M704 316.5h1M705 315.5h2M707 314.5h2M709 313.5h1M709 313.5h1M710 312.5h2M712 311.5h1M713 310.5h2M715 309.5h2M717 308.5h1M718 307.5h2M720 306.5h1M721 305.5h2M723 304.5h1M724 303.5h2M726 302.5h2M728 301.5h1M729 300.5h2M731 299.5h1M732 298.5h2M734 297.5h2M736 296.5h1M737 295.5h2M739 294.5h1M740 293.5h2M742 292.5h1M743 291.5h2M745 290.5h2M747 289.5h1M748 288.5h2M750 287.5h1M750 287.5h3M753 286.5h4M757 285.5h4M761 284.5h4M765 283.5h4M769 282.5h5M774 281.5h4M778 280.5h4M782 279.5h4M786 278.5h4M790 277.5h3M792 277.5h42M833 277.5h1M834 276.5h2M836 275.5h2M838 274.5h2M840 273.5h2M842 272.5h2M844 271.5h2M846 270.5h2M848 269.5h2M850 268.5h2M852 267.5h2M854 266.5h1M855 265.5h2M857 264.5h2M859 263.5h2M861 262.5h2M863 261.5h2M865 260.5h2M867 259.5h2M869 258.5h2M871 257.5h2M873 256.5h2M875 255.5h1M875 255.5h42M916.5 255v1M917.5 253v2M918.5 251v2M919.5 249v2M920.5 248v1M921.5 246v2M922.5 244v2M923.5 243v1M924.5 241v2M925.5 239v2M926.5 237v2M927.5 236v1M928.5 234v2M929.5 232v2M930.5 231v1M931.5 229v2M932.5 227v2M933.5 225v2M934.5 224v1M935.5 222v2M936.5 220v2M937.5 219v1M938.5 217v2M939.5 215v2M940.5 213v2M941.5 212v1M942.5 210v2M943.5 208v2M944.5 207v1M945.5 205v2M946.5 203v2M947.5 201v2M948.5 200v1M949.5 198v2M950.5 196v2M951.5 195v1M952.5 193v2M953.5 191v2M954.5 189v2M955.5 188v1M956.5 186v2M957.5 184v2M958.5 183v1" stroke="#808000"/>
<path d="M84.0 490.0L91.0 497.0M84.0 497.0L91.0 490.0" stroke="#808000" stroke-width="1" fill="none" shape-rendering="crispEdges"/>
<path d="M126.0 490.0L133.0 497.0M126.0 497.0L133.0 490.0" stroke="#808000" stroke-width="1" fill="none" shape-rendering="crispEdges"/>
<path d="M167.0 499.0L174.0 506.0M167.0 506.0L174.0 499.0" stroke="#808000" stroke-width="1" fill="none" shape-rendering="crispEdges"/>
<path d="M209.0 499.0L216.0 506.0M209.0 506.0L216.0 499.0" stroke="#808000" stroke-width="1" fill="none" shape-rendering="crispEdges"/>
<path d="M250.0 483.0L257.0 490.0M250.0 490.0L257.0 483.0" stroke="#808000" stroke-width="1" fill="none" shape-rendering="crispEdges"/>
<path d="M292.0 463.0L299.0 470.0M292.0 470.0L299.0 463.0" stroke="#808000" stroke-width="1" fill="none" shape-rendering="crispEdges"/>
<path d="M333.0 455.0L340.0 462.0M333.0 462.0L340.0 455.0" stroke="#808000" stroke-width="1" fill="none" shape-rendering="crispEdges"/>
<path d="M374.0 445.0L381.0 452.0M374.0 452.0L381.0 445.0" stroke="#808000" stroke-width="1" fill="none" shape-rendering="crispEdges"/>
<path d="M416.0 431.0L423.0 438.0M416.0 438.0L423.0 431.0" stroke="#808000" stroke-width="1" fill="none" shape-rendering="crispEdges"/>
<path d="M457.0 418.0L464.0 425.0M457.0 425.0L464.0 418.0" stroke="#808000" stroke-width="1" fill="none" shape-rendering="crispEdges"/>
<path d="M499.0 406.0L506.0 413.0M499.0 413.0L506.0 406.0" stroke="#808000" stroke-width="1" fill="none" shape-rendering="crispEdges"/>
<path d="M540.0 379.0L547.0 386.0M540.0 386.0L547.0 379.0" stroke="#808000" stroke-width="1" fill="none" shape-rendering="crispEdges"/>
<path d="M582.0 364.0L589.0 371.0M582.0 371.0L589.0 364.0" stroke="#808000" stroke-width="1" fill="none" shape-rendering="crispEdges"/>
<path d="M623.0 351.0L630.0 358.0M623.0 358.0L630.0 351.0" stroke="#808000" stroke-width="1" fill="none" shape-rendering="crispEdges"/>
<path d="M665.0 335.0L672.0 342.0M665.0 342.0L672.0 335.0" stroke="#808000" stroke-width="1" fill="none" shape-rendering="crispEdges"/>
<path d="M706.0 311.0L713.0 318.0M706.0 318.0L713.0 311.0" stroke="#808000" stroke-width="1" fill="none" shape-rendering="crispEdges"/>
<path d="M747.0 285.0L754.0 292.0M747.0 292.0L754.0 285.0" stroke="#808000" stroke-width="1" fill="none" shape-rendering="crispEdges"/>
<path d="M789.0 275.0L796.0 282.0M789.0 282.0L796.0 275.0" stroke="#808000" stroke-width="1" fill="none" shape-rendering="crispEdges"/>
<path d="M830.0 275.0L837.0 282.0M830.0 282.0L837.0 275.0" stroke="#808000" stroke-width="1" fill="none" shape-rendering="crispEdges"/>
<path d="M872.0 253.0L879.0 260.0M872.0 260.0L879.0 253.0" stroke="#808000" stroke-width="1" fill="none" shape-rendering="crispEdges"/>
<path d="M913.0 253.0L920.0 260.0M913.0 260.0L920.0 253.0" stroke="#808000" stroke-width="1" fill="none" shape-rendering="crispEdges"/>
<path d="M955.0 181.0L962.0 188.0M955.0 188.0L962.0 181.0" stroke="#808000" stroke-width="1" fill="none" shape-rendering="crispEdges"/>
<path d="M253 464.5h1M254 463.5h2M256 462.5h2M258 461.5h2M260 460.5h2M262 459.5h2M264 458.5h1M265 457.5h2M267 456.5h2M269 455.5h2M271 454.5h2M273 453.5h2M275 452.5h1M276 451.5h2M278 450.5h2M280 449.5h2M282 448.5h2M284 447.5h1M285 446.5h2M287 445.5h2M289 444.5h2M291 443.5h2M293 442.5h2M295 441.5h1M295 441.5h3M298 440.5h5M303 439.5h5M308 438.5h5M313 437.5h6M319 436.5h5M324 435.5h5M329 434.5h5M334 433.5h3M336 433.5h3M339 432.5h4M343 431.5h5M348 430.5h4M352 429.5h5M357 428.5h5M362 427.5h4M366 426.5h5M371 425.5h4M375 424.5h3M377 424.5h4M381 423.5h6M387 422.5h6M393 421.5h6M399 420.5h6M405 419.5h6M411 418.5h6M417 417.5h3M419 417.5h4M423 416.5h7M430 415.5h7M437 414.5h6M443 413.5h7M450 412.5h7M457 411.5h4M460 411.5h4M464 410.5h6M470 409.5h6M476 408.5h6M482 407.5h6M488 406.5h6M494 405.5h6M500 404.5h3M502 404.5h2M504 403.5h3M507 402.5h3M510 401.5h3M513 400.5h3M516 399.5h3M519 398.5h3M522 397.5h2M524 396.5h3M527 395.5h3M530 394.5h3M533 393.5h3M536 392.5h3M539 391.5h3M542 390.5h2M543 390.5h2M545 389.5h3M548 388.5h3M551 387.5h2M553 386.5h3M556 385.5h3M559 384.5h3M562 383.5h3M565 382.5h2M567 381.5h3M570 380.5h3M573 379.5h3M576 378.5h3M579 377.5h2M581 376.5h3M584 375.5h2M585 375.5h2M587 374.5h3M590 373.5h3M593 372.5h3M596 371.5h3M599 370.5h3M602 369.5h3M605 368.5h2M607 367.5h3M610 366.5h3M613 365.5h3M616 364.5h3M619 363.5h3M622 362.5h3M625 361.5h2M626 361.5h2M628 360.5h2M630 359.5h3M633 358.5h2M635 357.5h3M638 356.5h2M640 355.5h3M643 354.5h2M645 353.5h3M648 352.5h2M650 351.5h2M652 350.5h3M655 349.5h2M657 348.5h3M660 347.5h2M662 346.5h3M665 345.5h2M667 344.5h2M668 344.5h1M669 343.5h1M670 342.5h1M671 341.5h1M672 340.5h1M673 339.5h1M674 338.5h2M676 337.5h1M677 336.5h1M678 335.5h1M679 334.5h1M680 333.5h1M681 332.5h1M682 331.5h1M683 330.5h1M684 329.5h1M685 328.5h1M686 327.5h1M687 326.5h1M688 325.5h2M690 324.5h1M691 323.5h1M692 322.5h1M693 321.5h1M694 320.5h1M695 319.5h1M696 318.5h1M697 317.5h1M698 316.5h1M699 315.5h1M700 314.5h1M701 313.5h1M702 312.5h2M704 311.5h1M705 310.5h1M706 309.5h1M707 308.5h1M708 307.5h1M709 306.5h1M709 306.5h1M710 305.5h1M711 304.5h1M712 303.5h1M713 302.5h1M714 301.5h1M715 300.5h1M716 299.5h1M717 298.5h1M718 297.5h1M719 296.5h1M720 295.5h1M721 294.5h1M722 293.5h1M723 292.5h1M724 291.5h1M725 290.5h1M726 289.5h1M727 288.5h1M728 287.5h1M729 286.5h2M731 285.5h1M732 284.5h1M733 283.5h1M734 282.5h1M735 281.5h1M736 280.5h1M737 279.5h1M738 278.5h1M739 277.5h1M740 276.5h1M741 275.5h1M742 274.5h1M743 273.5h1M744 272.5h1M745 271.5h1M746 270.5h1M747 269.5h1M748 268.5h1M749 267.5h1M750 266.5h1M750 266.5h2M752 265.5h4M756 264.5h4M760 263.5h4M764 262.5h4M768 261.5h4M772 260.5h3M775 259.5h4M779 258.5h4M783 257.5h4M787 256.5h4M791 255.5h2M792 255.5h42M833 255.5h1M834 254.5h2M836 253.5h2M838 252.5h2M840 251.5h1M841 250.5h2M843 249.5h2M845 248.5h2M847 247.5h1M848 246.5h2M850 245.5h2M852 244.5h2M854 243.5h1M855 242.5h2M857 241.5h2M859 240.5h2M861 239.5h1M862 238.5h2M864 237.5h2M866 236.5h2M868 235.5h1M869 234.5h2M871 233.5h2M873 232.5h2M875 231.5h1M875 231.5h2M877 230.5h2M879 229.5h3M882 228.5h2M884 227.5h2M886 226.5h3M889 225.5h2M891 224.5h3M894 223.5h2M896 222.5h2M898 221.5h3M901 220.5h2M903 219.5h3M906 218.5h2M908 217.5h2M910 216.5h3M913 215.5h2M915 214.5h2M916.5 214v1M917.5 212v2M918.5 210v2M919.5 208v2M920.5 207v1M921.5 205v2M922.5 203v2M923.5 202v1M924.5 200v2M925.5 198v2M926.5 196v2M927.5 195v1M928.5 193v2M929.5 191v2M930.5 190v1M931.5 188v2M932.5 186v2M933.5 184v2M934.5 183v1M935.5 181v2M936.5 179v2M937.5 178v1M938.5 176v2M939.5 174v2M940.5 172v2M941.5 171v1M942.5 169v2M943.5 167v2M944.5 166v1M945.5 164v2M946.5 162v2M947.5 160v2M948.5 159v1M949.5 157v2M950.5 155v2M951.5 154v1M952.5 152v2M953.5 150v2M954.5 148v2M955.5 147v1M956.5 145v2M957.5 143v2M958.5 142v1" stroke="#ff00ff"/>
<path d="M250.0 462.0L257.0 469.0M250.0 469.0L257.0 462.0" stroke="#ff00ff" stroke-width="1" fill="none" shape-rendering="crispEdges"/>
<path d="M292.0 439.0L299.0 446.0M292.0 446.0L299.0 439.0" stroke="#ff00ff" stroke-width="1" fill="none" shape-rendering="crispEdges"/>
<path d="M333.0 431.0L340.0 438.0M333.0 438.0L340.0 431.0" stroke="#ff00ff" stroke-width="1" fill="none" shape-rendering="crispEdges"/>
<path d="M374.0 422.0L381.0 429.0M374.0 429.0L381.0 422.0" stroke="#ff00ff" stroke-width="1" fill="none" shape-rendering="crispEdges"/>
<path d="M416.0 415.0L423.0 422.0M416.0 422.0L423.0 415.0" stroke="#ff00ff" stroke-width="1" fill="none" shape-rendering="crispEdges"/>
<path d="M457.0 409.0L464.0 416.0M457.0 416.0L464.0 409.0" stroke="#ff00ff" stroke-width="1" fill="none" shape-rendering="crispEdges"/>
<path d="M499.0 402.0L506.0 409.0M499.0 409.0L506.0 402.0" stroke="#ff00ff" stroke-width="1" fill="none" shape-rendering="crispEdges"/>
<path d="M540.0 388.0L547.0 395.0M540.0 395.0L547.0 388.0" stroke="#ff00ff" stroke-width="1" fill="none" shape-rendering="crispEdges"/>
<path d="M582.0 373.0L589.0 380.0M582.0 380.0L589.0 373.0" stroke="#ff00ff" stroke-width="1" fill="none" shape-rendering="crispEdges"/>
<path d="M623.0 359.0L630.0 366.0M623.0 366.0L630.0 359.0" stroke="#ff00ff" stroke-width="1" fill="none" shape-rendering="crispEdges"/>
<path d="M665.0 342.0L672.0 349.0M665.0 349.0L672.0 342.0" stroke="#ff00ff" stroke-width="1" fill="none" shape-rendering="crispEdges"/>
<path d="M706.0 304.0L713.0 311.0M706.0 311.0L713.0 304.0" stroke="#ff00ff" stroke-width="1" fill="none" shape-rendering="crispEdges"/>
<path d="M747.0 264.0L754.0 271.0M747.0 271.0L754.0 264.0" stroke="#ff00ff" stroke-width="1" fill="none" shape-rendering="crispEdges"/>
<path d="M789.0 253.0L796.0 260.0M789.0 260.0L796.0 253.0" stroke="#ff00ff" stroke-width="1" fill="none" shape-rendering="crispEdges"/>
<path d="M830.0 253.0L837.0 260.0M830.0 260.0L837.0 253.0" stroke="#ff00ff" stroke-width="1" fill="none" shape-rendering="crispEdges"/>
<path d="M872.0 229.0L879.0 236.0M872.0 236.0L879.0 229.0" stroke="#ff00ff" stroke-width="1" fill="none" shape-rendering="crispEdges"/>
<path d="M913.0 212.0L920.0 219.0M913.0 219.0L920.0 212.0" stroke="#ff00ff" stroke-width="1" fill="none" shape-rendering="crispEdges"/>
<path d="M955.0 140.0L962.0 147.0M955.0 147.0L962.0 140.0" stroke="#ff00ff" stroke-width="1" fill="none" shape-rendering="crispEdges"/>
<path d="M253 491.5h1M254 490.5h2M256 489.5h2M258 488.5h2M260 487.5h2M262 486.5h2M264 485.5h1M265 484.5h2M267 483.5h2M269 482.5h2M271 481.5h2M273 480.5h2M275 479.5h1M276 478.5h2M278 477.5h2M280 476.5h2M282 475.5h2M284 474.5h1M285 473.5h2M287 472.5h2M289 471.5h2M291 470.5h2M293 469.5h2M295 468.5h1M295 468.5h4M299 467.5h7M306 466.5h7M313 465.5h6M319 464.5h7M326 463.5h7M333 462.5h4M336 462.5h21M357 461.5h21M377 461.5h2M379 460.5h4M383 459.5h4M387 458.5h4M391 457.5h4M395 456.5h4M399 455.5h3M402 454.5h4M406 453.5h4M410 452.5h4M414 451.5h4M418 450.5h2M419 450.5h2M421 449.5h3M424 448.5h3M427 447.5h3M430 446.5h3M433 445.5h3M436 444.5h3M439 443.5h2M441 442.5h3M444 441.5h3M447 440.5h3M450 439.5h3M453 438.5h3M456 437.5h3M459 436.5h2M460 436.5h2M462 435.5h4M466 434.5h3M469 433.5h4M473 432.5h3M476 431.5h4M480 430.5h3M483 429.5h4M487 428.5h3M490 427.5h4M494 426.5h3M497 425.5h4M501 424.5h2M502 424.5h2M504 423.5h4M508 422.5h3M511 421.5h3M514 420.5h4M518 419.5h3M521 418.5h4M525 417.5h3M528 416.5h4M532 415.5h3M535 414.5h3M538 413.5h4M542 412.5h2M543 412.5h43M585 412.5h1M586 411.5h2M588 410.5h1M589 409.5h2M591 408.5h1M592 407.5h2M594 406.5h1M595 405.5h1M596 404.5h2M598 403.5h1M599 402.5h2M601 401.5h1M602 400.5h2M604 399.5h1M605 398.5h2M607 397.5h1M608 396.5h2M610 395.5h1M611 394.5h2M613 393.5h1M614 392.5h2M616 391.5h1M617 390.5h1M618 389.5h2M620 388.5h1M621 387.5h2M623 386.5h1M624 385.5h2M626 384.5h1M626 384.5h2M628 383.5h3M631 382.5h3M634 381.5h2M636 380.5h3M639 379.5h3M642 378.5h3M645 377.5h3M648 376.5h2M650 375.5h3M653 374.5h3M656 373.5h3M659 372.5h3M662 371.5h2M664 370.5h3M667 369.5h2M668 369.5h1M669 368.5h2M671 367.5h2M673 366.5h2M675 365.5h2M677 364.5h2M679 363.5h2M681 362.5h1M682 361.5h2M684 360.5h2M686 359.5h2M688 358.5h2M690 357.5h2M692 356.5h2M694 355.5h2M696 354.5h1M697 353.5h2M699 352.5h2M701 351.5h2M703 350.5h2M705 349.5h2M707 348.5h2M709 347.5h1M709 347.5h1M710 346.5h2M712 345.5h2M714 344.5h2M716 343.5h2M718 342.5h1M719 341.5h2M721 340.5h2M723 339.5h2M725 338.5h1M726 337.5h2M728 336.5h2M730 335.5h2M732 334.5h2M734 333.5h1M735 332.5h2M737 331.5h2M739 330.5h2M741 329.5h1M742 328.5h2M744 327.5h2M746 326.5h2M748 325.5h2M750 324.5h1M750 324.5h2M752 323.5h3M755 322.5h4M759 321.5h3M762 320.5h3M765 319.5h3M768 318.5h4M772 317.5h3M775 316.5h3M778 315.5h3M781 314.5h3M784 313.5h4M788 312.5h3M791 311.5h2M792 311.5h42M833 311.5h2M835 310.5h2M837 309.5h2M839 308.5h2M841 307.5h2M843 306.5h2M845 305.5h2M847 304.5h2M849 303.5h2M851 302.5h2M853 301.5h2M855 300.5h2M857 299.5h2M859 298.5h2M861 297.5h2M863 296.5h2M865 295.5h2M867 294.5h2M869 293.5h2M871 292.5h2M873 291.5h2M875 290.5h1M875 290.5h42M916.5 290v1M917.5 288v2M918.5 286v2M919.5 285v1M920.5 283v2M921.5 281v2M922.5 280v1M923.5 278v2M924.5 276v2M925.5 275v1M926.5 273v2M927.5 271v2M928.5 270v1M929.5 268v2M930.5 266v2M931.5 265v1M932.5 263v2M933.5 261v2M934.5 260v1M935.5 258v2M936.5 256v2M937.5 255v1M938.5 253v2M939.5 251v2M940.5 250v1M941.5 248v2M942.5 246v2M943.5 245v1M944.5 243v2M945.5 241v2M946.5 240v1M947.5 238v2M948.5 236v2M949.5 235v1M950.5 233v2M951.5 231v2M952.5 230v1M953.5 228v2M954.5 226v2M955.5 225v1M956.5 223v2M957.5 221v2M958.5 220v1" stroke="#00ffff"/>
<path d="M250.0 489.0L257.0 496.0M250.0 496.0L257.0 489.0" stroke="#00ffff" stroke-width="1" fill="none" shape-rendering="crispEdges"/>
<path d="M292.0 466.0L299.0 473.0M292.0 473.0L299.0 466.0" stroke="#00ffff" stroke-width="1" fill="none" shape-rendering="crispEdges"/>
<path d="M333.0 460.0L340.0 467.0M333.0 467.0L340.0 460.0" stroke="#00ffff" stroke-width="1" fill="none" shape-rendering="crispEdges"/>
<path d="M374.0 459.0L381.0 466.0M374.0 466.0L381.0 459.0" stroke="#00ffff" stroke-width="1" fill="none" shape-rendering="crispEdges"/>
<path d="M416.0 448.0L423.0 455.0M416.0 455.0L423.0 448.0" stroke="#00ffff" stroke-width="1" fill="none" shape-rendering="crispEdges"/>
<path d="M457.0 434.0L464.0 441.0M457.0 441.0L464.0 434.0" stroke="#00ffff" stroke-width="1" fill="none" shape-rendering="crispEdges"/>
<path d="M499.0 422.0L506.0 429.0M499.0 429.0L506.0 422.0" stroke="#00ffff" stroke-width="1" fill="none" shape-rendering="crispEdges"/>
<path d="M540.0 410.0L547.0 417.0M540.0 417.0L547.0 410.0" stroke="#00ffff" stroke-width="1" fill="none" shape-rendering="crispEdges"/>
<path d="M582.0 410.0L589.0 417.0M582.0 417.0L589.0 410.0" stroke="#00ffff" stroke-width="1" fill="none" shape-rendering="crispEdges"/>
<path d="M623.0 382.0L630.0 389.0M623.0 389.0L630.0 382.0" stroke="#00ffff" stroke-width="1" fill="none" shape-rendering="crispEdges"/>
<path d="M665.0 367.0L672.0 374.0M665.0 374.0L672.0 367.0" stroke="#00ffff" stroke-width="1" fill="none" shape-rendering="crispEdges"/>
<path d="M706.0 345.0L713.0 352.0M706.0 352.0L713.0 345.0" stroke="#00ffff" stroke-width="1" fill="none" shape-rendering="crispEdges"/>
<path d="M747.0 322.0L754.0 329.0M747.0 329.0L754.0 322.0" stroke="#00ffff" stroke-width="1" fill="none" shape-rendering="crispEdges"/>
<path d="M789.0 309.0L796.0 316.0M789.0 316.0L796.0 309.0" stroke="#00ffff" stroke-width="1" fill="none" shape-rendering="crispEdges"/>
<path d="M830.0 309.0L837.0 316.0M830.0 316.0L837.0 309.0" stroke="#00ffff" stroke-width="1" fill="none" shape-rendering="crispEdges"/>
<path d="M872.0 288.0L879.0 295.0M872.0 295.0L879.0 288.0" stroke="#00ffff" stroke-width="1" fill="none" shape-rendering="crispEdges"/>
<path d="M913.0 288.0L920.0 295.0M913.0 295.0L920.0 288.0" stroke="#00ffff" stroke-width="1" fill="none" shape-rendering="crispEdges"/>
<path d="M955.0 218.0L962.0 225.0M955.0 225.0L962.0 218.0" stroke="#00ffff" stroke-width="1" fill="none" shape-rendering="crispEdges"/>
<path d="M253 528.5h2M255 527.5h2M257 526.5h2M259 525.5h2M261 524.5h2M263 523.5h2M265 522.5h2M267 521.5h2M269 520.5h2M271 519.5h2M273 518.5h2M275 517.5h2M277 516.5h2M279 515.5h2M281 514.5h2M283 513.5h2M285 512.5h2M287 511.5h2M289 510.5h2M291 509.5h2M293 508.5h2M295 507.5h1M295.5 507v1M296.5 506v1M297.5 504v2M298.5 503v1M299.5 502v1M300.5 501v1M301.5 500v1M302.5 498v2M303.5 497v1M304.5 496v1M305.5 495v1M306.5 493v2M307.5 492v1M308.5 491v1M309.5 490v1M310.5 489v1M311.5 487v2M312.5 486v1M313.5 485v1M314.5 484v1M315.5 482v2M316.5 481v1M317.5 480v1M318.5 479v1M319.5 478v1M320.5 476v2M321.5 475v1M322.5 474v1M323.5 473v1M324.5 472v1M325.5 470v2M326.5 469v1M327.5 468v1M328.5 467v1M329.5 465v2M330.5 464v1M331.5 463v1M332.5 462v1M333.5 461v1M334.5 459v2M335.5 458v1M336.5 457v1M336 457.5h3M339 458.5h5M344 459.5h5M349 460.5h5M354 461.5h6M360 462.5h5M365 463.5h5M370 464.5h5M375 465.5h3M377 465.5h2M379 464.5h3M382 463.5h3M385 462.5h2M387 461.5h3M390 460.5h3M393 459.5h3M396 458.5h3M399 457.5h2M401 456.5h3M404 455.5h3M407 454.5h3M410 453.5h3M413 452.5h2M415 451.5h3M418 450.5h2M419 450.5h2M421 449.5h2M423 448.5h3M426 447.5h2M428 446.5h3M431 445.5h3M434 444.5h2M436 443.5h3M439 442.5h2M441 441.5h3M444 440.5h2M446 439.5h3M449 438.5h3M452 437.5h2M454 436.5h3M457 435.5h2M459 434.5h2M460 434.5h1M461 433.5h2M463 432.5h2M465 431.5h2M467 430.5h2M469 429.5h2M471 428.5h2M473 427.5h2M475 426.5h2M477 425.5h2M479 424.5h2M481 423.5h1M482 422.5h2M484 421.5h2M486 420.5h2M488 419.5h2M490 418.5h2M492 417.5h2M494 416.5h2M496 415.5h2M498 414.5h2M500 413.5h2M502 412.5h1M502 412.5h2M504 411.5h3M507 410.5h3M510 409.5h4M514 408.5h3M517 407.5h3M520 406.5h3M523 405.5h3M526 404.5h3M529 403.5h3M532 402.5h4M536 401.5h3M539 400.5h3M542 399.5h2M543 399.5h1M544 398.5h1M545 397.5h2M547 396.5h1M548 395.5h1M549 394.5h1M550 393.5h1M551 392.5h2M553 391.5h1M554 390.5h1M555 389.5h1M556 388.5h1M557 387.5h2M559 386.5h1M560 385.5h1M561 384.5h1M562 383.5h1M563 382.5h2M565 381.5h1M566 380.5h1M567 379.5h1M568 378.5h1M569 377.5h2M571 376.5h1M572 375.5h1M573 374.5h1M574 373.5h1M575 372.5h2M577 371.5h1M578 370.5h1M579 369.5h1M580 368.5h1M581 367.5h2M583 366.5h1M584 365.5h1M585 364.5h1M585 364.5h2M587 363.5h3M590 362.5h3M593 361.5h3M596 360.5h3M599 359.5h3M602 358.5h3M605 357.5h2M607 356.5h3M610 355.5h3M613 354.5h3M616 353.5h3M619 352.5h3M622 351.5h3M625 350.5h2M626 350.5h2M628 349.5h2M630 348.5h2M632 347.5h2M634 346.5h2M636 345.5h3M639 344.5h2M641 343.5h2M643 342.5h2M645 341.5h3M648 340.5h2M650 339.5h2M652 338.5h2M654 337.5h2M656 336.5h3M659 335.5h2M661 334.5h2M663 333.5h2M665 332.5h2M667 331.5h2M668 331.5h1M669 330.5h2M671 329.5h2M673 328.5h2M675 327.5h2M677 326.5h1M678 325.5h2M680 324.5h2M682 323.5h2M684 322.5h1M685 321.5h2M687 320.5h2M689 319.5h2M691 318.5h2M693 317.5h1M694 316.5h2M696 315.5h2M698 314.5h2M700 313.5h1M701 312.5h2M703 311.5h2M705 310.5h2M707 309.5h2M709 308.5h1M709 308.5h1M710 307.5h2M712 306.5h2M714 305.5h1M715 304.5h2M717 303.5h2M719 302.5h1M720 301.5h2M722 300.5h1M723 299.5h2M725 298.5h2M727 297.5h1M728 296.5h2M730 295.5h2M732 294.5h1M733 293.5h2M735 292.5h2M737 291.5h1M738 290.5h2M740 289.5h1M741 288.5h2M743 287.5h2M745 286.5h1M746 285.5h2M748 284.5h2M750 283.5h1M750 283.5h2M752 282.5h4M756 281.5h4M760 280.5h4M764 279.5h4M768 278.5h4M772 277.5h3M775 276.5h4M779 275.5h4M783 274.5h4M787 273.5h4M791 272.5h2M792 272.5h42M833 272.5h1M834 271.5h2M836 270.5h2M838 269.5h2M840 268.5h2M842 267.5h2M844 266.5h2M846 265.5h2M848 264.5h2M850 263.5h2M852 262.5h2M854 261.5h1M855 260.5h2M857 259.5h2M859 258.5h2M861 257.5h2M863 256.5h2M865 255.5h2M867 254.5h2M869 253.5h2M871 252.5h2M873 251.5h2M875 250.5h1M875 250.5h42M916.5 249v2M917.5 247v2M918.5 245v2M919.5 243v2M920.5 241v2M921.5 239v2M922.5 237v2M923.5 235v2M924.5 233v2M925.5 231v2M926.5 229v2M927.5 227v2M928.5 225v2M929.5 223v2M930.5 221v2M931.5 219v2M932.5 217v2M933.5 215v2M934.5 213v2M935.5 211v2M936.5 209v2M937.5 206v3M938.5 204v2M939.5 202v2M940.5 200v2M941.5 198v2M942.5 196v2M943.5 194v2M944.5 192v2M945.5 190v2M946.5 188v2M947.5 186v2M948.5 184v2M949.5 182v2M950.5 180v2M951.5 178v2M952.5 176v2M953.5 174v2M954.5 172v2M955.5 170v2M956.5 168v2M957.5 166v2M958.5 164v2" stroke="#ffa500"/>
<path d="M250.0 526.0L257.0 533.0M250.0 533.0L257.0 526.0" stroke="#ffa500" stroke-width="1" fill="none" shape-rendering="crispEdges"/>
<path d="M292.0 505.0L299.0 512.0M292.0 512.0L299.0 505.0" stroke="#ffa500" stroke-width="1" fill="none" shape-rendering="crispEdges"/>
<path d="M333.0 455.0L340.0 462.0M333.0 462.0L340.0 455.0" stroke="#ffa500" stroke-width="1" fill="none" shape-rendering="crispEdges"/>
<path d="M374.0 463.0L381.0 470.0M374.0 470.0L381.0 463.0" stroke="#ffa500" stroke-width="1" fill="none" shape-rendering="crispEdges"/>
<path d="M416.0 448.0L423.0 455.0M416.0 455.0L423.0 448.0" stroke="#ffa500" stroke-width="1" fill="none" shape-rendering="crispEdges"/>
<path d="M457.0 432.0L464.0 439.0M457.0 439.0L464.0 432.0" stroke="#ffa500" stroke-width="1" fill="none" shape-rendering="crispEdges"/>
<path d="M499.0 410.0L506.0 417.0M499.0 417.0L506.0 410.0" stroke="#ffa500" stroke-width="1" fill="none" shape-rendering="crispEdges"/>
<path d="M540.0 397.0L547.0 404.0M540.0 404.0L547.0 397.0" stroke="#ffa500" stroke-width="1" fill="none" shape-rendering="crispEdges"/>
<path d="M582.0 362.0L589.0 369.0M582.0 369.0L589.0 362.0" stroke="#ffa500" stroke-width="1" fill="none" shape-rendering="crispEdges"/>
<path d="M623.0 348.0L630.0 355.0M623.0 355.0L630.0 348.0" stroke="#ffa500" stroke-width="1" fill="none" shape-rendering="crispEdges"/>
<path d="M665.0 329.0L672.0 336.0M665.0 336.0L672.0 329.0" stroke="#ffa500" stroke-width="1" fill="none" shape-rendering="crispEdges"/>
<path d="M706.0 306.0L713.0 313.0M706.0 313.0L713.0 306.0" stroke="#ffa500" stroke-width="1" fill="none" shape-rendering="crispEdges"/>
<path d="M747.0 281.0L754.0 288.0M747.0 288.0L754.0 281.0" stroke="#ffa500" stroke-width="1" fill="none" shape-rendering="crispEdges"/>
<path d="M789.0 270.0L796.0 277.0M789.0 277.0L796.0 270.0" stroke="#ffa500" stroke-width="1" fill="none" shape-rendering="crispEdges"/>
<path d="M830.0 270.0L837.0 277.0M830.0 277.0L837.0 270.0" stroke="#ffa500" stroke-width="1" fill="none" shape-rendering="crispEdges"/>
<path d="M872.0 248.0L879.0 255.0M872.0 255.0L879.0 248.0" stroke="#ffa500" stroke-width="1" fill="none" shape-rendering="crispEdges"/>
<path d="M913.0 248.0L920.0 255.0M913.0 255.0L920.0 248.0" stroke="#ffa500" stroke-width="1" fill="none" shape-rendering="crispEdges"/>
<path d="M955.0 162.0L962.0 169.0M955.0 169.0L962.0 162.0" stroke="#ffa500" stroke-width="1" fill="none" shape-rendering="crispEdges"/>
<path d="M253 525.5h6M259 524.5h10M269 523.5h11M280 522.5h10M290 521.5h6M295.5 521v1M296.5 520v1M297.5 518v2M298.5 517v1M299.5 516v1M300.5 515v1M301.5 513v2M302.5 512v1M303.5 511v1M304.5 510v1M305.5 508v2M306.5 507v1M307.5 506v1M308.5 505v1M309.5 503v2M310.5 502v1M311.5 501v1M312.5 500v1M313.5 498v2M314.5 497v1M315.5 496v1M316.5 495v1M317.5 494v1M318.5 492v2M319.5 491v1M320.5 490v1M321.5 489v1M322.5 487v2M323.5 486v1M324.5 485v1M325.5 484v1M326.5 482v2M327.5 481v1M328.5 480v1M329.5 479v1M330.5 477v2M331.5 476v1M332.5 475v1M333.5 474v1M334.5 472v2M335.5 471v1M336.5 470v1M336.5 470v1M337.5 468v2M338.5 467v1M339.5 466v1M340.5 464v2M341.5 463v1M342.5 461v2M343.5 460v1M344.5 458v2M345.5 457v1M346.5 456v1M347.5 454v2M348.5 453v1M349.5 451v2M350.5 450v1M351.5 449v1M352.5 447v2M353.5 446v1M354.5 444v2M355.5 443v1M356.5 441v2M357.5 440v1M358.5 439v1M359.5 437v2M360.5 436v1M361.5 434v2M362.5 433v1M363.5 432v1M364.5 430v2M365.5 429v1M366.5 427v2M367.5 426v1M368.5 425v1M369.5 423v2M370.5 422v1M371.5 420v2M372.5 419v1M373.5 417v2M374.5 416v1M375.5 415v1M376.5 413v2M377.5 412v1M377 412.5h2M379 411.5h3M382 410.5h3M385 409.5h3M388 408.5h3M391 407.5h3M394 406.5h3M397 405.5h3M400 404.5h3M403 403.5h3M406 402.5h3M409 401.5h3M412 400.5h3M415 399.5h3M418 398.5h2M419 398.5h2M421 397.5h2M423 396.5h2M425 395.5h2M427 394.5h3M430 393.5h2M432 392.5h2M434 391.5h3M437 390.5h2M439 389.5h2M441 388.5h2M443 387.5h3M446 386.5h2M448 385.5h2M450 384.5h3M453 383.5h2M455 382.5h2M457 381.5h2M459 380.5h2M460 380.5h2M462 379.5h2M464 378.5h2M466 377.5h2M468 376.5h2M470 375.5h2M472 374.5h2M474 373.5h2M476 372.5h2M478 371.5h2M480 370.5h3M483 369.5h2M485 368.5h2M487 367.5h2M489 366.5h2M491 365.5h2M493 364.5h2M495 363.5h2M497 362.5h2M499 361.5h2M501 360.5h2M502 360.5h2M504 359.5h3M507 358.5h2M509 357.5h3M512 356.5h3M515 355.5h3M518 354.5h2M520 353.5h3M523 352.5h3M526 351.5h2M528 350.5h3M531 349.5h3M534 348.5h3M537 347.5h2M539 346.5h3M542 345.5h2M543 345.5h2M545 344.5h2M547 343.5h3M550 342.5h2M552 341.5h3M555 340.5h2M557 339.5h3M560 338.5h2M562 337.5h3M565 336.5h2M567 335.5h2M569 334.5h3M572 333.5h2M574 332.5h3M577 331.5h2M579 330.5h3M582 329.5h2M584 328.5h2M585 328.5h2M587 327.5h2M589 326.5h2M591 325.5h2M593 324.5h2M595 323.5h2M597 322.5h3M600 321.5h2M602 320.5h2M604 319.5h2M606 318.5h2M608 317.5h2M610 316.5h2M612 315.5h3M615 314.5h2M617 313.5h2M619 312.5h2M621 311.5h2M623 310.5h2M625 309.5h2M626 309.5h2M628 308.5h2M630 307.5h2M632 306.5h3M635 305.5h2M637 304.5h2M639 303.5h3M642 302.5h2M644 301.5h2M646 300.5h3M649 299.5h2M651 298.5h2M653 297.5h3M656 296.5h2M658 295.5h2M660 294.5h3M663 293.5h2M665 292.5h2M667 291.5h2M668 291.5h1M669 290.5h2M671 289.5h2M673 288.5h1M674 287.5h2M676 286.5h2M678 285.5h2M680 284.5h1M681 283.5h2M683 282.5h2M685 281.5h1M686 280.5h2M688 279.5h2M690 278.5h2M692 277.5h1M693 276.5h2M695 275.5h2M697 274.5h1M698 273.5h2M700 272.5h2M702 271.5h2M704 270.5h1M705 269.5h2M707 268.5h2M709 267.5h1M709 267.5h1M710 266.5h2M712 265.5h1M713 264.5h2M715 263.5h2M717 262.5h1M718 261.5h2M720 260.5h1M721 259.5h2M723 258.5h1M724 257.5h2M726 256.5h2M728 255.5h1M729 254.5h2M731 253.5h1M732 252.5h2M734 251.5h2M736 250.5h1M737 249.5h2M739 248.5h1M740 247.5h2M742 246.5h1M743 245.5h2M745 244.5h2M747 243.5h1M748 242.5h2M750 241.5h1M750 241.5h2M752 240.5h4M756 239.5h3M759 238.5h4M763 237.5h3M766 236.5h4M770 235.5h3M773 234.5h4M777 233.5h3M780 232.5h4M784 231.5h3M787 230.5h4M791 229.5h2M792 229.5h42M833 229.5h1M834 228.5h2M836 227.5h2M838 226.5h2M840 225.5h2M842 224.5h2M844 223.5h1M845 222.5h2M847 221.5h2M849 220.5h2M851 219.5h2M853 218.5h2M855 217.5h1M856 216.5h2M858 215.5h2M860 214.5h2M862 213.5h2M864 212.5h1M865 211.5h2M867 210.5h2M869 209.5h2M871 208.5h2M873 207.5h2M875 206.5h1M875 206.5h42M916.5 206v1M917.5 204v2M918.5 202v2M919.5 200v2M920.5 199v1M921.5 197v2M922.5 195v2M923.5 193v2M924.5 192v1M925.5 190v2M926.5 188v2M927.5 186v2M928.5 184v2M929.5 183v1M930.5 181v2M931.5 179v2M932.5 177v2M933.5 176v1M934.5 174v2M935.5 172v2M936.5 170v2M937.5 169v1M938.5 167v2M939.5 165v2M940.5 163v2M941.5 162v1M942.5 160v2M943.5 158v2M944.5 156v2M945.5 155v1M946.5 153v2M947.5 151v2M948.5 149v2M949.5 147v2M950.5 146v1M951.5 144v2M952.5 142v2M953.5 140v2M954.5 139v1M955.5 137v2M956.5 135v2M957.5 133v2M958.5 132v1" stroke="#ff0000"/>
<rect x="250.5" y="523.5" width="6" height="6" stroke="#ff0000" stroke-width="1" fill="none" shape-rendering="crispEdges"/>
<rect x="292.5" y="519.5" width="6" height="6" stroke="#ff0000" stroke-width="1" fill="none" shape-rendering="crispEdges"/>
<rect x="333.5" y="468.5" width="6" height="6" stroke="#ff0000" stroke-width="1" fill="none" shape-rendering="crispEdges"/>
<rect x="374.5" y="410.5" width="6" height="6" stroke="#ff0000" stroke-width="1" fill="none" shape-rendering="crispEdges"/>
<rect x="416.5" y="396.5" width="6" height="6" stroke="#ff0000" stroke-width="1" fill="none" shape-rendering="crispEdges"/>
<rect x="457.5" y="378.5" width="6" height="6" stroke="#ff0000" stroke-width="1" fill="none" shape-rendering="crispEdges"/>
<rect x="499.5" y="358.5" width="6" height="6" stroke="#ff0000" stroke-width="1" fill="none" shape-rendering="crispEdges"/>
<rect x="540.5" y="343.5" width="6" height="6" stroke="#ff0000" stroke-width="1" fill="none" shape-rendering="crispEdges"/>
<rect x="582.5" y="326.5" width="6" height="6" stroke="#ff0000" stroke-width="1" fill="none" shape-rendering="crispEdges"/>
<rect x="623.5" y="307.5" width="6" height="6" stroke="#ff0000" stroke-width="1" fill="none" shape-rendering="crispEdges"/>
<rect x="665.5" y="289.5" width="6" height="6" stroke="#ff0000" stroke-width="1" fill="none" shape-rendering="crispEdges"/>
<rect x="706.5" y="265.5" width="6" height="6" stroke="#ff0000" stroke-width="1" fill="none" shape-rendering="crispEdges"/>
<rect x="747.5" y="239.5" width="6" height="6" stroke="#ff0000" stroke-width="1" fill="none" shape-rendering="crispEdges"/>
<rect x="789.5" y="227.5" width="6" height="6" stroke="#ff0000" stroke-width="1" fill="none" shape-rendering="crispEdges"/>
<rect x="830.5" y="227.5" width="6" height="6" stroke="#ff0000" stroke-width="1" fill="none" shape-rendering="crispEdges"/>
<rect x="872.5" y="204.5" width="6" height="6" stroke="#ff0000" stroke-width="1" fill="none" shape-rendering="crispEdges"/>
<rect x="913.5" y="204.5" width="6" height="6" stroke="#ff0000" stroke-width="1" fill="none" shape-rendering="crispEdges"/>
<rect x="955.5" y="130.5" width="6" height="6" stroke="#ff0000" stroke-width="1" fill="none" shape-rendering="crispEdges"/>
<path d="M253 499.5h1M254 498.5h2M256 497.5h2M258 496.5h2M260 495.5h2M262 494.5h2M264 493.5h2M266 492.5h2M268 491.5h2M270 490.5h2M272 489.5h2M274 488.5h1M275 487.5h2M277 486.5h2M279 485.5h2M281 484.5h2M283 483.5h2M285 482.5h2M287 481.5h2M289 480.5h2M291 479.5h2M293 478.5h2M295 477.5h1M295 477.5h3M298 476.5h6M304 475.5h6M310 474.5h6M316 473.5h6M322 472.5h6M328 471.5h6M334 470.5h3M336 470.5h3M339 469.5h4M343 468.5h5M348 467.5h4M352 466.5h5M357 465.5h5M362 464.5h4M366 463.5h5M371 462.5h4M375 461.5h3M377 461.5h1M378 460.5h1M379 459.5h2M381 458.5h1M382 457.5h1M383 456.5h1M384 455.5h2M386 454.5h1M387 453.5h1M388 452.5h1M389 451.5h1M390 450.5h2M392 449.5h1M393 448.5h1M394 447.5h1M395 446.5h2M397 445.5h1M398 444.5h1M399 443.5h1M400 442.5h2M402 441.5h1M403 440.5h1M404 439.5h1M405 438.5h2M407 437.5h1M408 436.5h1M409 435.5h1M410 434.5h1M411 433.5h2M413 432.5h1M414 431.5h1M415 430.5h1M416 429.5h2M418 428.5h1M419 427.5h1M419 427.5h2M421 426.5h3M424 425.5h2M426 424.5h3M429 423.5h3M432 422.5h3M435 421.5h2M437 420.5h3M440 419.5h3M443 418.5h2M445 417.5h3M448 416.5h3M451 415.5h3M454 414.5h2M456 413.5h3M459 412.5h2M460 412.5h2M462 411.5h2M464 410.5h2M466 409.5h3M469 408.5h2M471 407.5h2M473 406.5h3M476 405.5h2M478 404.5h2M480 403.5h3M483 402.5h2M485 401.5h2M487 400.5h3M490 399.5h2M492 398.5h2M494 397.5h3M497 396.5h2M499 395.5h2M501 394.5h2M502 394.5h2M504 393.5h3M507 392.5h3M510 391.5h4M514 390.5h3M517 389.5h3M520 388.5h3M523 387.5h3M526 386.5h3M529 385.5h3M532 384.5h4M536 383.5h3M539 382.5h3M542 381.5h2M543 381.5h2M545 380.5h3M548 379.5h3M551 378.5h2M553 377.5h3M556 376.5h3M559 375.5h3M562 374.5h3M565 373.5h2M567 372.5h3M570 371.5h3M573 370.5h3M576 369.5h3M579 368.5h2M581 367.5h3M584 366.5h2M585 366.5h2M587 365.5h4M591 364.5h3M594 363.5h3M597 362.5h4M601 361.5h3M604 360.5h4M608 359.5h3M611 358.5h4M615 357.5h3M618 356.5h3M621 355.5h4M625 354.5h2M626 354.5h2M628 353.5h2M630 352.5h3M633 351.5h2M635 350.5h3M638 349.5h2M640 348.5h3M643 347.5h2M645 346.5h3M648 345.5h2M650 344.5h2M652 343.5h3M655 342.5h2M657 341.5h3M660 340.5h2M662 339.5h3M665 338.5h2M667 337.5h2M668 337.5h1M669 336.5h2M671 335.5h2M673 334.5h2M675 333.5h2M677 332.5h2M679 331.5h2M681 330.5h1M682 329.5h2M684 328.5h2M686 327.5h2M688 326.5h2M690 325.5h2M692 324.5h2M694 323.5h2M696 322.5h1M697 321.5h2M699 320.5h2M701 319.5h2M703 318.5h2M705 317.5h2M707 316.5h2M709 315.5h1M709 315.5h1M710 314.5h2M712 313.5h2M714 312.5h1M715 311.5h2M717 310.5h2M719 309.5h2M721 308.5h1M722 307.5h2M724 306.5h2M726 305.5h1M727 304.5h2M729 303.5h2M731 302.5h2M733 301.5h1M734 300.5h2M736 299.5h2M738 298.5h1M739 297.5h2M741 296.5h2M743 295.5h2M745 294.5h1M746 293.5h2M748 292.5h2M750 291.5h1M750 291.5h2M752 290.5h3M755 289.5h3M758 288.5h3M761 287.5h3M764 286.5h3M767 285.5h3M770 284.5h3M773 283.5h3M776 282.5h3M779 281.5h3M782 280.5h3M785 279.5h3M788 278.5h3M791 277.5h2M792 277.5h5M797 276.5h8M805 275.5h8M813 274.5h8M821 273.5h8M829 272.5h5M833 272.5h1M834 271.5h2M836 270.5h2M838 269.5h2M840 268.5h2M842 267.5h2M844 266.5h1M845 265.5h2M847 264.5h2M849 263.5h2M851 262.5h2M853 261.5h2M855 260.5h1M856 259.5h2M858 258.5h2M860 257.5h2M862 256.5h2M864 255.5h1M865 254.5h2M867 253.5h2M869 252.5h2M871 251.5h2M873 250.5h2M875 249.5h1M875 249.5h21M896 248.5h21M916.5 248v1M917.5 246v2M918.5 244v2M919.5 242v2M920.5 241v1M921.5 239v2M922.5 237v2M923.5 236v1M924.5 234v2M925.5 232v2M926.5 230v2M927.5 229v1M928.5 227v2M929.5 225v2M930.5 224v1M931.5 222v2M932.5 220v2M933.5 218v2M934.5 217v1M935.5 215v2M936.5 213v2M937.5 212v1M938.5 210v2M939.5 208v2M940.5 206v2M941.5 205v1M942.5 203v2M943.5 201v2M944.5 200v1M945.5 198v2M946.5 196v2M947.5 194v2M948.5 193v1M949.5 191v2M950.5 189v2M951.5 188v1M952.5 186v2M953.5 184v2M954.5 182v2M955.5 181v1M956.5 179v2M957.5 177v2M958.5 176v1" stroke="#00ff00"/>
<rect x="250.5" y="497.5" width="6" height="6" stroke="#00ff00" stroke-width="1" fill="none" shape-rendering="crispEdges"/>
<rect x="292.5" y="475.5" width="6" height="6" stroke="#00ff00" stroke-width="1" fill="none" shape-rendering="crispEdges"/>
<rect x="333.5" y="468.5" width="6" height="6" stroke="#00ff00" stroke-width="1" fill="none" shape-rendering="crispEdges"/>
<rect x="374.5" y="459.5" width="6" height="6" stroke="#00ff00" stroke-width="1" fill="none" shape-rendering="crispEdges"/>
<rect x="416.5" y="425.5" width="6" height="6" stroke="#00ff00" stroke-width="1" fill="none" shape-rendering="crispEdges"/>
<rect x="457.5" y="410.5" width="6" height="6" stroke="#00ff00" stroke-width="1" fill="none" shape-rendering="crispEdges"/>
<rect x="499.5" y="392.5" width="6" height="6" stroke="#00ff00" stroke-width="1" fill="none" shape-rendering="crispEdges"/>
<rect x="540.5" y="379.5" width="6" height="6" stroke="#00ff00" stroke-width="1" fill="none" shape-rendering="crispEdges"/>
<rect x="582.5" y="364.5" width="6" height="6" stroke="#00ff00" stroke-width="1" fill="none" shape-rendering="crispEdges"/>
<rect x="623.5" y="352.5" width="6" height="6" stroke="#00ff00" stroke-width="1" fill="none" shape-rendering="crispEdges"/>
<rect x="665.5" y="335.5" width="6" height="6" stroke="#00ff00" stroke-width="1" fill="none" shape-rendering="crispEdges"/>
<rect x="706.5" y="313.5" width="6" height="6" stroke="#00ff00" stroke-width="1" fill="none" shape-rendering="crispEdges"/>
<rect x="747.5" y="289.5" width="6" height="6" stroke="#00ff00" stroke-width="1" fill="none" shape-rendering="crispEdges"/>
<rect x="789.5" y="275.5" width="6" height="6" stroke="#00ff00" stroke-width="1" fill="none" shape-rendering="crispEdges"/>
<rect x="830.5" y="270.5" width="6" height="6" stroke="#00ff00" stroke-width="1" fill="none" shape-rendering="crispEdges"/>
<rect x="872.5" y="247.5" width="6" height="6" stroke="#00ff00" stroke-width="1" fill="none" shape-rendering="crispEdges"/>
<rect x="913.5" y="246.5" width="6" height="6" stroke="#00ff00" stroke-width="1" fill="none" shape-rendering="crispEdges"/>
<rect x="955.5" y="174.5" width="6" height="6" stroke="#00ff00" stroke-width="1" fill="none" shape-rendering="crispEdges"/>
<path d="M253 536.5h2M255 535.5h2M257 534.5h2M259 533.5h2M261 532.5h2M263 531.5h2M265 530.5h2M267 529.5h2M269 528.5h2M271 527.5h2M273 526.5h2M275 525.5h2M277 524.5h2M279 523.5h2M281 522.5h2M283 521.5h2M285 520.5h2M287 519.5h2M289 518.5h2M291 517.5h2M293 516.5h2M295 515.5h1M295.5 515v1M296.5 514v1M297.5 512v2M298.5 511v1M299.5 510v1M300.5 509v1M301.5 507v2M302.5 506v1M303.5 505v1M304.5 503v2M305.5 502v1M306.5 501v1M307.5 500v1M308.5 498v2M309.5 497v1M310.5 496v1M311.5 495v1M312.5 493v2M313.5 492v1M314.5 491v1M315.5 489v2M316.5 488v1M317.5 487v1M318.5 486v1M319.5 484v2M320.5 483v1M321.5 482v1M322.5 481v1M323.5 479v2M324.5 478v1M325.5 477v1M326.5 476v1M327.5 474v2M328.5 473v1M329.5 472v1M330.5 470v2M331.5 469v1M332.5 468v1M333.5 467v1M334.5 465v2M335.5 464v1M336.5 463v1M336 463.5h3M339 462.5h4M343 461.5h5M348 460.5h4M352 459.5h5M357 458.5h5M362 457.5h4M366 456.5h5M371 455.5h4M375 454.5h3M377 454.5h2M379 453.5h3M382 452.5h3M385 451.5h3M388 450.5h3M391 449.5h3M394 448.5h3M397 447.5h3M400 446.5h3M403 445.5h3M406 444.5h3M409 443.5h3M412 442.5h3M415 441.5h3M418 440.5h2M419 440.5h2M421 439.5h3M424 438.5h2M426 437.5h3M429 436.5h3M432 435.5h3M435 434.5h2M437 433.5h3M440 432.5h3M443 431.5h2M445 430.5h3M448 429.5h3M451 428.5h3M454 427.5h2M456 426.5h3M459 425.5h2M460 425.5h2M462 424.5h2M464 423.5h2M466 422.5h3M469 421.5h2M471 420.5h2M473 419.5h3M476 418.5h2M478 417.5h2M480 416.5h3M483 415.5h2M485 414.5h2M487 413.5h3M490 412.5h2M492 411.5h2M494 410.5h3M497 409.5h2M499 408.5h2M501 407.5h2M502 407.5h2M504 406.5h4M508 405.5h3M511 404.5h3M514 403.5h4M518 402.5h3M521 401.5h4M525 400.5h3M528 399.5h4M532 398.5h3M535 397.5h3M538 396.5h4M542 395.5h2M543 395.5h2M545 394.5h3M548 393.5h3M551 392.5h3M554 391.5h3M557 390.5h3M560 389.5h3M563 388.5h3M566 387.5h3M569 386.5h3M572 385.5h3M575 384.5h3M578 383.5h3M581 382.5h3M584 381.5h2M585 381.5h2M587 380.5h3M590 379.5h3M593 378.5h4M597 377.5h3M600 376.5h3M603 375.5h3M606 374.5h3M609 373.5h3M612 372.5h3M615 371.5h4M619 370.5h3M622 369.5h3M625 368.5h2M626 368.5h2M628 367.5h2M630 366.5h3M633 365.5h3M636 364.5h2M638 363.5h3M641 362.5h3M644 361.5h2M646 360.5h3M649 359.5h2M651 358.5h3M654 357.5h3M657 356.5h2M659 355.5h3M662 354.5h3M665 353.5h2M667 352.5h2M668 352.5h1M669 351.5h2M671 350.5h2M673 349.5h2M675 348.5h2M677 347.5h1M678 346.5h2M680 345.5h2M682 344.5h2M684 343.5h1M685 342.5h2M687 341.5h2M689 340.5h2M691 339.5h2M693 338.5h1M694 337.5h2M696 336.5h2M698 335.5h2M700 334.5h1M701 333.5h2M703 332.5h2M705 331.5h2M707 330.5h2M709 329.5h1M709 329.5h1M710 328.5h2M712 327.5h2M714 326.5h1M715 325.5h2M717 324.5h2M719 323.5h2M721 322.5h1M722 321.5h2M724 320.5h2M726 319.5h1M727 318.5h2M729 317.5h2M731 316.5h2M733 315.5h1M734 314.5h2M736 313.5h2M738 312.5h1M739 311.5h2M741 310.5h2M743 309.5h2M745 308.5h1M746 307.5h2M748 306.5h2M750 305.5h1M750 305.5h3M753 304.5h4M757 303.5h4M761 302.5h4M765 301.5h4M769 300.5h5M774 299.5h4M778 298.5h4M782 297.5h4M786 296.5h4M790 295.5h3M792 295.5h42M833.5 295v1M834.5 294v1M835.5 293v1M836.5 291v2M837.5 290v1M838.5 289v1M839.5 288v1M840.5 287v1M841.5 286v1M842.5 285v1M843.5 283v2M844.5 282v1M845.5 281v1M846.5 280v1M847.5 279v1M848.5 278v1M849.5 277v1M850.5 275v2M851.5 274v1M852.5 273v1M853.5 272v1M854.5 271v1M855.5 270v1M856.5 269v1M857.5 267v2M858.5 266v1M859.5 265v1M860.5 264v1M861.5 263v1M862.5 262v1M863.5 261v1M864.5 259v2M865.5 258v1M866.5 257v1M867.5 256v1M868.5 255v1M869.5 254v1M870.5 253v1M871.5 251v2M872.5 250v1M873.5 249v1M874.5 248v1M875.5 247v1M875 247.5h2M877 246.5h2M879 245.5h2M881 244.5h2M883 243.5h2M885 242.5h2M887 241.5h3M890 240.5h2M892 239.5h2M894 238.5h2M896 237.5h2M898 236.5h2M900 235.5h2M902 234.5h3M905 233.5h2M907 232.5h2M909 231.5h2M911 230.5h2M913 229.5h2M915 228.5h2M916.5 228v1M917.5 226v2M918.5 224v2M919.5 222v2M920.5 221v1M921.5 219v2M922.5 217v2M923.5 215v2M924.5 214v1M925.5 212v2M926.5 210v2M927.5 209v1M928.5 207v2M929.5 205v2M930.5 203v2M931.5 202v1M932.5 200v2M933.5 198v2M934.5 196v2M935.5 195v1M936.5 193v2M937.5 191v2M938.5 189v2M939.5 188v1M940.5 186v2M941.5 184v2M942.5 182v2M943.5 181v1M944.5 179v2M945.5 177v2M946.5 175v2M947.5 174v1M948.5 172v2M949.5 170v2M950.5 169v1M951.5 167v2M952.5 165v2M953.5 163v2M954.5 162v1M955.5 160v2M956.5 158v2M957.5 156v2M958.5 155v1" stroke="#0000ff"/>
<rect x="250.5" y="534.5" width="6" height="6" stroke="#0000ff" stroke-width="1" fill="none" shape-rendering="crispEdges"/>
<rect x="292.5" y="513.5" width="6" height="6" stroke="#0000ff" stroke-width="1" fill="none" shape-rendering="crispEdges"/>
<rect x="333.5" y="461.5" width="6" height="6" stroke="#0000ff" stroke-width="1" fill="none" shape-rendering="crispEdges"/>
<rect x="374.5" y="452.5" width="6" height="6" stroke="#0000ff" stroke-width="1" fill="none" shape-rendering="crispEdges"/>
<rect x="416.5" y="438.5" width="6" height="6" stroke="#0000ff" stroke-width="1" fill="none" shape-rendering="crispEdges"/>
<rect x="457.5" y="423.5" width="6" height="6" stroke="#0000ff" stroke-width="1" fill="none" shape-rendering="crispEdges"/>
<rect x="499.5" y="405.5" width="6" height="6" stroke="#0000ff" stroke-width="1" fill="none" shape-rendering="crispEdges"/>
<rect x="540.5" y="393.5" width="6" height="6" stroke="#0000ff" stroke-width="1" fill="none" shape-rendering="crispEdges"/>
<rect x="582.5" y="379.5" width="6" height="6" stroke="#0000ff" stroke-width="1" fill="none" shape-rendering="crispEdges"/>
<rect x="623.5" y="366.5" width="6" height="6" stroke="#0000ff" stroke-width="1" fill="none" shape-rendering="crispEdges"/>
<rect x="665.5" y="350.5" width="6" height="6" stroke="#0000ff" stroke-width="1" fill="none" shape-rendering="crispEdges"/>
<rect x="706.5" y="327.5" width="6" height="6" stroke="#0000ff" stroke-width="1" fill="none" shape-rendering="crispEdges"/>
<rect x="747.5" y="303.5" width="6" height="6" stroke="#0000ff" stroke-width="1" fill="none" shape-rendering="crispEdges"/>
<rect x="789.5" y="293.5" width="6" height="6" stroke="#0000ff" stroke-width="1" fill="none" shape-rendering="crispEdges"/>
<rect x="830.5" y="293.5" width="6" height="6" stroke="#0000ff" stroke-width="1" fill="none" shape-rendering="crispEdges"/>
<rect x="872.5" y="245.5" width="6" height="6" stroke="#0000ff" stroke-width="1" fill="none" shape-rendering="crispEdges"/>
<rect x="913.5" y="226.5" width="6" height="6" stroke="#0000ff" stroke-width="1" fill="none" shape-rendering="crispEdges"/>
<rect x="955.5" y="153.5" width="6" height="6" stroke="#0000ff" stroke-width="1" fill="none" shape-rendering="crispEdges"/>
</g>
<g id="legend">
<rect x="35" y="562" width="13" height="2" fill="#ff0000" shape-rendering="crispEdges"/>
<path d="M41.0 560.0h1v1h2v2h1v1h-1v2h-2v1h-1v-1h-2v-2h-1v-1h1v-2h2z" fill="#ff0000" shape-rendering="crispEdges"/>
<text class="s" x="50.5" y="566.4" textLength="20.1" lengthAdjust="spacingAndGlyphs">Bund</text>
<rect x="169" y="562" width="13" height="2" fill="#00ff00" shape-rendering="crispEdges"/>
<path d="M175.0 560.0h1v1h2v2h1v1h-1v2h-2v1h-1v-1h-2v-2h-1v-1h1v-2h2z" fill="#00ff00" shape-rendering="crispEdges"/>
<text class="s" x="184.5" y="566.4" textLength="85.5" lengthAdjust="spacingAndGlyphs">Baden-Württemberg</text>
<rect x="303" y="562" width="13" height="2" fill="#0000ff" shape-rendering="crispEdges"/>
<path d="M309.0 560.0h1v1h2v2h1v1h-1v2h-2v1h-1v-1h-2v-2h-1v-1h1v-2h2z" fill="#0000ff" shape-rendering="crispEdges"/>
<text class="s" x="318.5" y="566.4" textLength="30.2" lengthAdjust="spacingAndGlyphs">Bayern</text>
<rect x="437" y="562" width="13" height="2" fill="#808000" shape-rendering="crispEdges"/>
<path d="M443.0 560.0h1v1h2v2h1v1h-1v2h-2v1h-1v-1h-2v-2h-1v-1h1v-2h2z" fill="#808000" shape-rendering="crispEdges"/>
<text class="s" x="452.5" y="566.4" textLength="30.2" lengthAdjust="spacingAndGlyphs">Berlin</text>
<rect x="571" y="562" width="13" height="2" fill="#ff00ff" shape-rendering="crispEdges"/>
<path d="M577.0 560.0h1v1h2v2h1v1h-1v2h-2v1h-1v-1h-2v-2h-1v-1h1v-2h2z" fill="#ff00ff" shape-rendering="crispEdges"/>
<text class="s" x="586.5" y="566.4" textLength="55.3" lengthAdjust="spacingAndGlyphs">Brandenburg</text>
<rect x="705" y="562" width="13" height="2" fill="#00ffff" shape-rendering="crispEdges"/>
<path d="M711.0 560.0h1v1h2v2h1v1h-1v2h-2v1h-1v-1h-2v-2h-1v-1h1v-2h2z" fill="#00ffff" shape-rendering="crispEdges"/>
<text class="s" x="720.5" y="566.4" textLength="30.2" lengthAdjust="spacingAndGlyphs">Bremen</text>
<rect x="839" y="562" width="13" height="2" fill="#ffa500" shape-rendering="crispEdges"/>
<path d="M845.0 560.0h1v1h2v2h1v1h-1v2h-2v1h-1v-1h-2v-2h-1v-1h1v-2h2z" fill="#ffa500" shape-rendering="crispEdges"/>
<text class="s" x="854.5" y="566.4" textLength="35.2" lengthAdjust="spacingAndGlyphs">Hamburg</text>
<rect x="35" y="578" width="13" height="2" fill="#ff0000" shape-rendering="crispEdges"/>
<path d="M38.0 576.0L45.0 583.0M38.0 583.0L45.0 576.0" stroke="#ff0000" stroke-width="1" fill="none" shape-rendering="crispEdges"/>
<text class="s" x="50.5" y="582.4" textLength="30.2" lengthAdjust="spacingAndGlyphs">Hessen</text>
<rect x="169" y="578" width="13" height="2" fill="#00ff00" shape-rendering="crispEdges"/>
<path d="M172.0 576.0L179.0 583.0M172.0 583.0L179.0 576.0" stroke="#00ff00" stroke-width="1" fill="none" shape-rendering="crispEdges"/>
<text class="s" x="184.5" y="582.4" textLength="110.7" lengthAdjust="spacingAndGlyphs">Mecklenburg-Vorpommern</text>
<rect x="303" y="578" width="13" height="2" fill="#0000ff" shape-rendering="crispEdges"/>
<path d="M306.0 576.0L313.0 583.0M306.0 583.0L313.0 576.0" stroke="#0000ff" stroke-width="1" fill="none" shape-rendering="crispEdges"/>
<text class="s" x="318.5" y="582.4" textLength="65.4" lengthAdjust="spacingAndGlyphs">Niedersachsen</text>
<rect x="437" y="578" width="13" height="2" fill="#808000" shape-rendering="crispEdges"/>
<path d="M440.0 576.0L447.0 583.0M440.0 583.0L447.0 576.0" stroke="#808000" stroke-width="1" fill="none" shape-rendering="crispEdges"/>
<text class="s" x="452.5" y="582.4" textLength="95.6" lengthAdjust="spacingAndGlyphs">Nordrhein-Westfalen</text>
<rect x="571" y="578" width="13" height="2" fill="#ff00ff" shape-rendering="crispEdges"/>
<path d="M574.0 576.0L581.0 583.0M574.0 583.0L581.0 576.0" stroke="#ff00ff" stroke-width="1" fill="none" shape-rendering="crispEdges"/>
<text class="s" x="586.5" y="582.4" textLength="75.5" lengthAdjust="spacingAndGlyphs">Rheinland-Pfalz</text>
<rect x="705" y="578" width="13" height="2" fill="#00ffff" shape-rendering="crispEdges"/>
<path d="M708.0 576.0L715.0 583.0M708.0 583.0L715.0 576.0" stroke="#00ffff" stroke-width="1" fill="none" shape-rendering="crispEdges"/>
<text class="s" x="720.5" y="582.4" textLength="40.2" lengthAdjust="spacingAndGlyphs">Saarland</text>
<rect x="839" y="578" width="13" height="2" fill="#ffa500" shape-rendering="crispEdges"/>
<path d="M842.0 576.0L849.0 583.0M842.0 583.0L849.0 576.0" stroke="#ffa500" stroke-width="1" fill="none" shape-rendering="crispEdges"/>
<text class="s" x="854.5" y="582.4" textLength="35.2" lengthAdjust="spacingAndGlyphs">Sachsen</text>
<rect x="35" y="594" width="13" height="2" fill="#ff0000" shape-rendering="crispEdges"/>
<rect x="38.5" y="592.5" width="6" height="6" stroke="#ff0000" stroke-width="1" fill="none" shape-rendering="crispEdges"/>
<text class="s" x="50.5" y="598.4" textLength="70.4" lengthAdjust="spacingAndGlyphs">Sachsen-Anhalt</text>
<rect x="169" y="594" width="13" height="2" fill="#00ff00" shape-rendering="crispEdges"/>
<rect x="172.5" y="592.5" width="6" height="6" stroke="#00ff00" stroke-width="1" fill="none" shape-rendering="crispEdges"/>
<text class="s" x="184.5" y="598.4" textLength="90.5" lengthAdjust="spacingAndGlyphs">Schleswig-Holstein</text>
<rect x="303" y="594" width="13" height="2" fill="#0000ff" shape-rendering="crispEdges"/>
<rect x="306.5" y="592.5" width="6" height="6" stroke="#0000ff" stroke-width="1" fill="none" shape-rendering="crispEdges"/>
<text class="s" x="318.5" y="598.4" textLength="45.3" lengthAdjust="spacingAndGlyphs">Thüringen</text>
</g>
</svg></body></html>
